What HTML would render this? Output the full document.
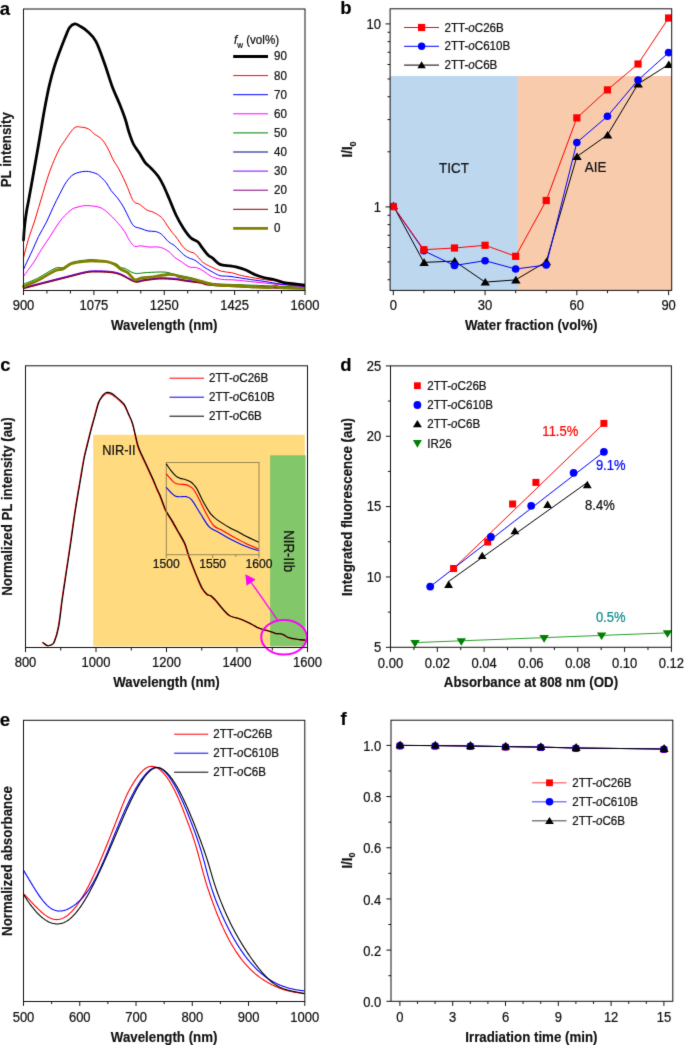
<!DOCTYPE html><html><head><meta charset="utf-8"><title>Figure</title><style>html,body{margin:0;padding:0;background:#fff;}svg{display:block;will-change:transform;}text{font-family:"Liberation Sans",sans-serif;}</style></head><body>
<svg width="685" height="1045" viewBox="0 0 685 1045" font-family="Liberation Sans, sans-serif">
<defs><clipPath id="clipA"><rect x="22" y="9" width="283" height="281.5"/></clipPath><clipPath id="clipB"><rect x="390.1" y="8.8" width="281.6" height="281.6"/></clipPath><clipPath id="clipC"><rect x="25.5" y="365.8" width="282" height="281.7"/></clipPath><clipPath id="clipE"><rect x="23.5" y="720.3" width="281.3" height="281.2"/></clipPath><filter id="soft" x="0" y="0" width="685" height="1045" color-interpolation-filters="sRGB" filterUnits="userSpaceOnUse"><feConvolveMatrix order="3" kernelMatrix="0.01000 0.08000 0.01000 0.08000 0.64000 0.08000 0.01000 0.08000 0.01000" edgeMode="duplicate" preserveAlpha="true"/></filter></defs>
<rect width="685" height="1045" fill="#fff"/>
<g filter="url(#soft)">
<rect width="685" height="1045" fill="#fff"/>
<g clip-path="url(#clipA)">
<path d="M23.5,288 C26.82,287.13 36.2,284.65 43.4,282.8 C50.6,280.95 59.7,278.67 66.7,276.9 C73.7,275.13 80.68,273.13 85.4,272.2 C90.12,271.27 90.87,271.35 95,271.3 C99.13,271.25 105.92,271.4 110.2,271.9 C114.48,272.4 116.62,272.73 120.7,274.3 C124.78,275.87 130.82,280.33 134.7,281.3 C138.58,282.27 139.92,280.6 144,280.1 C148.08,279.6 154.03,278.5 159.2,278.3 C164.37,278.1 170.65,278.53 175,278.9 C179.35,279.27 181.02,279.9 185.3,280.5 C189.58,281.1 196.78,281.83 200.7,282.5 C204.62,283.17 202.25,283.87 208.8,284.5 C215.35,285.13 224.05,285.67 240,286.3 C255.95,286.93 293.75,287.97 304.5,288.3" fill="none" stroke="#000080" stroke-width="1.0" stroke-linejoin="round" stroke-linecap="round"/>
<path d="M23.5,287.5 C26.82,286.63 36.2,284.15 43.4,282.3 C50.6,280.45 59.7,278.17 66.7,276.4 C73.7,274.63 80.68,272.63 85.4,271.7 C90.12,270.77 90.87,270.85 95,270.8 C99.13,270.75 105.92,270.9 110.2,271.4 C114.48,271.9 116.62,272.23 120.7,273.8 C124.78,275.37 130.82,279.83 134.7,280.8 C138.58,281.77 139.92,280.1 144,279.6 C148.08,279.1 154.03,278 159.2,277.8 C164.37,277.6 170.65,278.03 175,278.4 C179.35,278.77 181.02,279.4 185.3,280 C189.58,280.6 196.78,281.33 200.7,282 C204.62,282.67 202.25,283.37 208.8,284 C215.35,284.63 224.05,285.17 240,285.8 C255.95,286.43 293.75,287.47 304.5,287.8" fill="none" stroke="#8000ff" stroke-width="1.0" stroke-linejoin="round" stroke-linecap="round"/>
<path d="M23.5,288.2 C26.82,287.33 36.2,284.85 43.4,283 C50.6,281.15 59.7,278.87 66.7,277.1 C73.7,275.33 80.68,273.33 85.4,272.4 C90.12,271.47 90.87,271.55 95,271.5 C99.13,271.45 105.92,271.6 110.2,272.1 C114.48,272.6 116.62,272.93 120.7,274.5 C124.78,276.07 130.82,280.53 134.7,281.5 C138.58,282.47 139.92,280.8 144,280.3 C148.08,279.8 154.03,278.7 159.2,278.5 C164.37,278.3 170.65,278.73 175,279.1 C179.35,279.47 181.02,280.1 185.3,280.7 C189.58,281.3 196.78,282.03 200.7,282.7 C204.62,283.37 202.25,284.07 208.8,284.7 C215.35,285.33 224.05,285.87 240,286.5 C255.95,287.13 293.75,288.17 304.5,288.5" fill="none" stroke="#800080" stroke-width="1.0" stroke-linejoin="round" stroke-linecap="round"/>
<path d="M23.5,288.7 C26.82,287.83 36.2,285.35 43.4,283.5 C50.6,281.65 59.7,279.37 66.7,277.6 C73.7,275.83 80.68,273.83 85.4,272.9 C90.12,271.97 90.87,272.05 95,272 C99.13,271.95 105.92,272.1 110.2,272.6 C114.48,273.1 116.62,273.43 120.7,275 C124.78,276.57 130.82,281.03 134.7,282 C138.58,282.97 139.92,281.3 144,280.8 C148.08,280.3 154.03,279.2 159.2,279 C164.37,278.8 170.65,279.23 175,279.6 C179.35,279.97 181.02,280.6 185.3,281.2 C189.58,281.8 196.78,282.53 200.7,283.2 C204.62,283.87 202.25,284.57 208.8,285.2 C215.35,285.83 224.05,286.37 240,287 C255.95,287.63 293.75,288.67 304.5,289" fill="none" stroke="#800000" stroke-width="1.0" stroke-linejoin="round" stroke-linecap="round"/>
<path d="M23.5,284.1 C25.83,283.13 32.25,280.93 37.5,278.3 C42.75,275.67 50.72,270.1 55,268.3 C59.28,266.5 60.47,268.47 63.2,267.5 C65.93,266.53 67.7,263.73 71.4,262.5 C75.1,261.27 81.47,260.53 85.4,260.1 C89.33,259.67 90.08,259.35 95,259.9 C99.92,260.45 110.62,262.15 114.9,263.4 C119.18,264.65 118.95,266.53 120.7,267.4 C122.45,268.27 123.07,267.62 125.4,268.6 C127.73,269.58 131,272.65 134.7,273.3 C138.4,273.95 142.55,272.7 147.6,272.5 C152.65,272.3 160.43,271.77 165,272.1 C169.57,272.43 170.83,273.6 175,274.5 C179.17,275.4 184.02,276.05 190,277.5 C195.98,278.95 202.57,282 210.9,283.2 C219.23,284.4 230.87,284.28 240,284.7 C249.13,285.12 254.95,285.28 265.7,285.7 C276.45,286.12 298.03,286.95 304.5,287.2" fill="none" stroke="#008000" stroke-width="1.0" stroke-linejoin="round" stroke-linecap="round"/>
<path d="M23.5,286.4 C25.83,285.43 32.25,283.22 37.5,280.6 C42.75,277.98 50.72,272.65 55,270.7 C59.28,268.75 60.47,270.07 63.2,268.9 C65.93,267.73 67.7,264.97 71.4,263.7 C75.1,262.43 81.47,261.75 85.4,261.3 C89.33,260.85 91.45,260.95 95,261 C98.55,261.05 103.38,261.02 106.7,261.6 C110.02,262.18 112.57,263.23 114.9,264.5 C117.23,265.77 118.57,267.83 120.7,269.2 C122.83,270.57 125.37,270.95 127.7,272.7 C130.03,274.45 132.37,278.82 134.7,279.7 C137.03,280.58 138.58,278.48 141.7,278 C144.82,277.52 149.12,277.38 153.4,276.8 C157.68,276.22 163.8,274.8 167.4,274.5 C171,274.2 172.87,274.57 175,275 C177.13,275.43 177.63,276.5 180.2,277.1 C182.77,277.7 186.98,277.92 190.4,278.6 C193.82,279.28 197.28,280.27 200.7,281.2 C204.12,282.13 207.5,283.52 210.9,284.2 C214.3,284.88 216.25,285.03 221.1,285.3 C225.95,285.57 234.28,285.48 240,285.8 C245.72,286.12 250.45,286.92 255.4,287.2 C260.35,287.48 266.28,287.75 269.7,287.5 C273.12,287.25 274.18,285.7 275.9,285.7 C277.62,285.7 275.23,287.08 280,287.5 C284.77,287.92 300.42,288.08 304.5,288.2" fill="none" stroke="#808000" stroke-width="2.8" stroke-linejoin="round" stroke-linecap="round"/>
<path d="M23.5,276.5 C24.33,275.33 26.75,271.93 28.5,269.5 C30.25,267.07 31.83,265.27 34,261.9 C36.17,258.53 38.82,253.55 41.5,249.3 C44.18,245.05 47.12,240.95 50.1,236.4 C53.08,231.85 56.05,226.32 59.4,222 C62.75,217.68 67.1,213 70.2,210.5 C73.3,208 75.17,207.82 78,207 C80.83,206.18 83.53,205.52 87.2,205.6 C90.87,205.68 96.5,206.25 100,207.5 C103.5,208.75 105.47,210.8 108.2,213.1 C110.93,215.4 113.68,218.23 116.4,221.3 C119.12,224.37 122.3,228.27 124.5,231.5 C126.7,234.73 127.9,238.23 129.6,240.7 C131.3,243.17 132.82,245.45 134.7,246.3 C136.58,247.15 138.52,245.67 140.9,245.8 C143.28,245.93 146.28,246.92 149,247.1 C151.72,247.28 154.8,246.68 157.2,246.9 C159.6,247.12 161.27,247.47 163.4,248.4 C165.53,249.33 168.13,251 170,252.5 C171.87,254 172.87,255.98 174.6,257.4 C176.33,258.82 177.97,259.42 180.4,261 C182.83,262.58 186.52,265.8 189.2,266.9 C191.88,268 194.07,266.88 196.5,267.6 C198.93,268.32 201.37,269.73 203.8,271.2 C206.23,272.67 208.18,275.05 211.1,276.4 C214.02,277.75 217.32,278.7 221.3,279.3 C225.28,279.9 229.32,279.53 235,280 C240.68,280.47 248.58,281.42 255.4,282.1 C262.22,282.78 267.72,283.33 275.9,284.1 C284.08,284.87 299.73,286.27 304.5,286.7" fill="none" stroke="#ff00ff" stroke-width="1.0" stroke-linejoin="round" stroke-linecap="round"/>
<path d="M23.5,269.5 C24.22,267.92 26.23,263.37 27.8,260 C29.37,256.63 31.1,253.23 32.9,249.3 C34.7,245.37 36.33,240.95 38.6,236.4 C40.87,231.85 44.1,226.8 46.5,222 C48.9,217.2 50.73,212.38 53,207.6 C55.27,202.82 57.82,197.65 60.1,193.3 C62.38,188.95 64.38,184.68 66.7,181.5 C69.02,178.32 70.83,175.9 74,174.2 C77.17,172.5 82.05,171.42 85.7,171.3 C89.35,171.18 93.52,172.67 95.9,173.5 C98.28,174.33 98.3,174.8 100,176.3 C101.7,177.8 104.23,180.1 106.1,182.5 C107.97,184.9 109.32,188.15 111.2,190.7 C113.08,193.25 115.35,195.08 117.4,197.8 C119.45,200.52 121.63,203.77 123.5,207 C125.37,210.23 126.9,214.05 128.6,217.2 C130.3,220.35 131.65,224.02 133.7,225.9 C135.75,227.78 138.52,227.65 140.9,228.5 C143.28,229.35 145.62,230.5 148,231 C150.38,231.5 152.98,230.98 155.2,231.5 C157.42,232.02 159.03,232.35 161.3,234.1 C163.57,235.85 166.58,240.07 168.8,242 C171.02,243.93 172.17,243.62 174.6,245.7 C177.03,247.78 180.97,252.43 183.4,254.5 C185.83,256.57 187.27,257.13 189.2,258.1 C191.13,259.07 192.57,258.83 195,260.3 C197.43,261.77 201.12,265.08 203.8,266.9 C206.48,268.72 208.42,269.75 211.1,271.2 C213.78,272.65 216.75,274.73 219.9,275.6 C223.05,276.47 224.93,275.75 230,276.4 C235.07,277.05 244.35,278.63 250.3,279.5 C256.25,280.37 260.58,280.83 265.7,281.6 C270.82,282.37 274.53,283.33 281,284.1 C287.47,284.87 300.58,285.85 304.5,286.2" fill="none" stroke="#0000ff" stroke-width="1.0" stroke-linejoin="round" stroke-linecap="round"/>
<path d="M23.5,258 C23.87,256.55 24.73,252.9 25.7,249.3 C26.67,245.7 27.87,240.95 29.3,236.4 C30.73,231.85 32.75,226.8 34.3,222 C35.85,217.2 37.17,212.38 38.6,207.6 C40.03,202.82 41.47,198.08 42.9,193.3 C44.33,188.52 45.63,183.68 47.2,178.9 C48.77,174.12 50.27,169.62 52.3,164.6 C54.33,159.58 57.48,152.55 59.4,148.8 C61.32,145.05 61.37,145.53 63.8,142.1 C66.23,138.67 71.08,130.68 74,128.2 C76.92,125.72 78.87,127.07 81.3,127.2 C83.73,127.33 86.4,127.85 88.6,129 C90.8,130.15 92.3,132.4 94.5,134.1 C96.7,135.8 99.62,136.88 101.8,139.2 C103.98,141.52 105.68,144.53 107.6,148 C109.52,151.47 111.5,156.63 113.3,160 C115.1,163.37 116.7,165.13 118.4,168.2 C120.1,171.27 121.97,175.17 123.5,178.4 C125.03,181.63 126.23,184.37 127.6,187.6 C128.97,190.83 130.52,195.33 131.7,197.8 C132.88,200.27 133.33,201.28 134.7,202.4 C136.07,203.52 137.85,203.22 139.9,204.5 C141.95,205.78 144.8,208.83 147,210.1 C149.2,211.37 150.72,210.92 153.1,212.1 C155.48,213.28 159.22,215.38 161.3,217.2 C163.38,219.02 163.98,220.7 165.6,223 C167.22,225.3 169.27,228.67 171,231 C172.73,233.33 173.93,234.3 176,237 C178.07,239.7 181.2,244.78 183.4,247.2 C185.6,249.62 187.27,250.42 189.2,251.5 C191.13,252.58 192.82,251.98 195,253.7 C197.18,255.42 199.62,259.6 202.3,261.8 C204.98,264 207.93,265.33 211.1,266.9 C214.27,268.47 217.9,270.23 221.3,271.2 C224.7,272.17 228.08,271.97 231.5,272.7 C234.92,273.43 236.97,274.55 241.8,275.6 C246.63,276.65 254.82,278.08 260.5,279 C266.18,279.92 271.63,280.33 275.9,281.1 C280.17,281.87 281.33,282.83 286.1,283.6 C290.87,284.37 301.43,285.35 304.5,285.7" fill="none" stroke="#ff0000" stroke-width="1.0" stroke-linejoin="round" stroke-linecap="round"/>
<path d="M23.5,240 C23.57,239 23.75,236 23.9,234 C24.05,232 24.2,230.08 24.4,228 C24.6,225.92 24.73,224.33 25.1,221.5 C25.47,218.67 26.02,214.52 26.6,211 C27.18,207.48 27.8,204.73 28.6,200.4 C29.4,196.07 30.43,190.4 31.4,185 C32.37,179.6 33.37,173.83 34.4,168 C35.43,162.17 36.5,156.33 37.6,150 C38.7,143.67 39.87,136.67 41,130 C42.13,123.33 43.03,117.35 44.4,110 C45.77,102.65 47.55,93.08 49.2,85.9 C50.85,78.72 52.6,72.5 54.3,66.9 C56,61.3 57.57,57.28 59.4,52.3 C61.23,47.32 63.6,41.13 65.3,37 C67,32.87 68.03,29.68 69.6,27.5 C71.17,25.32 72.98,24.13 74.7,23.9 C76.42,23.67 77.82,24.88 79.9,26.1 C81.98,27.32 84.53,28.65 87.2,31.2 C89.87,33.75 92.98,35.93 95.9,41.4 C98.82,46.87 102.02,56.58 104.7,64 C107.38,71.42 109.53,79.27 112,85.9 C114.47,92.53 117.28,98.25 119.5,103.8 C121.72,109.35 123.72,114.45 125.3,119.2 C126.88,123.95 127.65,128.17 129,132.3 C130.35,136.43 131.7,140.58 133.4,144 C135.1,147.42 137.27,149.75 139.2,152.8 C141.13,155.85 143.02,159.73 145,162.3 C146.98,164.87 148.9,165.87 151.1,168.2 C153.3,170.53 156.15,173.42 158.2,176.3 C160.25,179.18 161.55,181.72 163.4,185.5 C165.25,189.28 167.2,194.08 169.3,199 C171.4,203.92 173.65,210.13 176,215 C178.35,219.87 180.95,224.42 183.4,228.2 C185.85,231.98 188.27,235.4 190.7,237.7 C193.13,240 196.07,240.3 198,242 C199.93,243.7 200.6,245.7 202.3,247.9 C204,250.1 206.48,253.5 208.2,255.2 C209.92,256.9 210.65,256.57 212.6,258.1 C214.55,259.63 217,263.12 219.9,264.4 C222.8,265.68 227.33,265.38 230,265.8 C232.67,266.22 233.37,266.23 235.9,266.9 C238.43,267.57 242.28,268.63 245.2,269.8 C248.12,270.97 250.33,272.62 253.4,273.9 C256.47,275.18 260.2,276.57 263.6,277.5 C267,278.43 270.4,278.65 273.8,279.5 C277.2,280.35 280.25,281.83 284,282.6 C287.75,283.37 292.88,283.68 296.3,284.1 C299.72,284.52 303.13,284.93 304.5,285.1" fill="none" stroke="#000" stroke-width="2.8" stroke-linejoin="round" stroke-linecap="round"/>
</g>
<rect x="23.5" y="9" width="281.5" height="281.5" fill="none" stroke="#111" stroke-width="1.0"/>
<line x1="23.5" y1="290.5" x2="23.5" y2="295" stroke="#111" stroke-width="1.0"/>
<line x1="93.88" y1="290.5" x2="93.88" y2="295" stroke="#111" stroke-width="1.0"/>
<line x1="164.25" y1="290.5" x2="164.25" y2="295" stroke="#111" stroke-width="1.0"/>
<line x1="234.62" y1="290.5" x2="234.62" y2="295" stroke="#111" stroke-width="1.0"/>
<line x1="305" y1="290.5" x2="305" y2="295" stroke="#111" stroke-width="1.0"/>
<line x1="46.96" y1="290.5" x2="46.96" y2="293.5" stroke="#111" stroke-width="1.0"/>
<line x1="70.42" y1="290.5" x2="70.42" y2="293.5" stroke="#111" stroke-width="1.0"/>
<line x1="117.33" y1="290.5" x2="117.33" y2="293.5" stroke="#111" stroke-width="1.0"/>
<line x1="140.79" y1="290.5" x2="140.79" y2="293.5" stroke="#111" stroke-width="1.0"/>
<line x1="187.71" y1="290.5" x2="187.71" y2="293.5" stroke="#111" stroke-width="1.0"/>
<line x1="211.17" y1="290.5" x2="211.17" y2="293.5" stroke="#111" stroke-width="1.0"/>
<line x1="258.08" y1="290.5" x2="258.08" y2="293.5" stroke="#111" stroke-width="1.0"/>
<line x1="281.54" y1="290.5" x2="281.54" y2="293.5" stroke="#111" stroke-width="1.0"/>
<text x="0" y="0" font-size="13.0" text-anchor="middle" font-weight="normal" fill="#111" stroke="#111" stroke-width="0.22" transform="translate(23.5 309.6) scale(1 1.075)">900</text>
<text x="0" y="0" font-size="13.0" text-anchor="middle" font-weight="normal" fill="#111" stroke="#111" stroke-width="0.22" transform="translate(93.88 309.6) scale(1 1.075)">1075</text>
<text x="0" y="0" font-size="13.0" text-anchor="middle" font-weight="normal" fill="#111" stroke="#111" stroke-width="0.22" transform="translate(164.25 309.6) scale(1 1.075)">1250</text>
<text x="0" y="0" font-size="13.0" text-anchor="middle" font-weight="normal" fill="#111" stroke="#111" stroke-width="0.22" transform="translate(234.62 309.6) scale(1 1.075)">1425</text>
<text x="0" y="0" font-size="13.0" text-anchor="middle" font-weight="normal" fill="#111" stroke="#111" stroke-width="0.22" transform="translate(305 309.6) scale(1 1.075)">1600</text>
<text x="0" y="0" font-size="13.3" text-anchor="middle" font-weight="bold" fill="#111" stroke="#111" stroke-width="0.154" transform="translate(164.25 329.9) scale(1 1.075)">Wavelength (nm)</text>
<text x="0" y="0" font-size="13.3" text-anchor="middle" font-weight="bold" fill="#111" stroke="#111" stroke-width="0.154" transform="translate(11.3 149.75) rotate(-90) scale(1 1.075)">PL intensity</text>
<text x="0" y="0" font-size="18.5" text-anchor="start" font-weight="bold" fill="#000" stroke="#000" stroke-width="0.154" transform="translate(-0.3 14.6) scale(1 1.0)">a</text>
<text x="0" y="0" font-size="11.6" text-anchor="start" font-weight="normal" fill="#111" stroke="#111" stroke-width="0.22" transform="translate(234 44.3) scale(1 1.075)"><tspan font-style="italic">f</tspan><tspan font-size="8" dy="3.2">w</tspan><tspan dy="-3.2"> (vol%)</tspan></text>
<line x1="233.2" y1="56.5" x2="268" y2="56.5" stroke="#000" stroke-width="2.8"/>
<text x="0" y="0" font-size="11.6" text-anchor="start" font-weight="normal" fill="#111" stroke="#111" stroke-width="0.22" transform="translate(274 60.4) scale(1 1.075)">90</text>
<line x1="233.2" y1="75.6" x2="268" y2="75.6" stroke="#ff0000" stroke-width="1.0"/>
<text x="0" y="0" font-size="11.6" text-anchor="start" font-weight="normal" fill="#111" stroke="#111" stroke-width="0.22" transform="translate(274 79.5) scale(1 1.075)">80</text>
<line x1="233.2" y1="94.7" x2="268" y2="94.7" stroke="#0000ff" stroke-width="1.0"/>
<text x="0" y="0" font-size="11.6" text-anchor="start" font-weight="normal" fill="#111" stroke="#111" stroke-width="0.22" transform="translate(274 98.6) scale(1 1.075)">70</text>
<line x1="233.2" y1="113.8" x2="268" y2="113.8" stroke="#ff00ff" stroke-width="1.0"/>
<text x="0" y="0" font-size="11.6" text-anchor="start" font-weight="normal" fill="#111" stroke="#111" stroke-width="0.22" transform="translate(274 117.7) scale(1 1.075)">60</text>
<line x1="233.2" y1="132.9" x2="268" y2="132.9" stroke="#008000" stroke-width="1.0"/>
<text x="0" y="0" font-size="11.6" text-anchor="start" font-weight="normal" fill="#111" stroke="#111" stroke-width="0.22" transform="translate(274 136.8) scale(1 1.075)">50</text>
<line x1="233.2" y1="152" x2="268" y2="152" stroke="#000080" stroke-width="1.0"/>
<text x="0" y="0" font-size="11.6" text-anchor="start" font-weight="normal" fill="#111" stroke="#111" stroke-width="0.22" transform="translate(274 155.9) scale(1 1.075)">40</text>
<line x1="233.2" y1="171.1" x2="268" y2="171.1" stroke="#8000ff" stroke-width="1.0"/>
<text x="0" y="0" font-size="11.6" text-anchor="start" font-weight="normal" fill="#111" stroke="#111" stroke-width="0.22" transform="translate(274 175) scale(1 1.075)">30</text>
<line x1="233.2" y1="190.2" x2="268" y2="190.2" stroke="#800080" stroke-width="1.0"/>
<text x="0" y="0" font-size="11.6" text-anchor="start" font-weight="normal" fill="#111" stroke="#111" stroke-width="0.22" transform="translate(274 194.1) scale(1 1.075)">20</text>
<line x1="233.2" y1="209.3" x2="268" y2="209.3" stroke="#800000" stroke-width="1.0"/>
<text x="0" y="0" font-size="11.6" text-anchor="start" font-weight="normal" fill="#111" stroke="#111" stroke-width="0.22" transform="translate(274 213.2) scale(1 1.075)">10</text>
<line x1="233.2" y1="228.4" x2="268" y2="228.4" stroke="#808000" stroke-width="2.8"/>
<text x="0" y="0" font-size="11.6" text-anchor="start" font-weight="normal" fill="#111" stroke="#111" stroke-width="0.22" transform="translate(274 232.3) scale(1 1.075)">0</text>
<rect x="390.1" y="76" width="127.9" height="214.4" fill="#bdd7ee"/>
<rect x="518" y="76" width="153.7" height="214.4" fill="#f8cbad"/>
<g clip-path="url(#clipB)">
<polyline points="393.3,205.8 423.89,262.4 454.48,261.1 485.07,282.1 515.66,279.9 546.25,261.7 576.84,156.6 607.43,135 638.02,84 668.61,64.5" fill="none" stroke="#000" stroke-width="1.0" stroke-linejoin="round"/>
<polyline points="393.3,206.5 423.89,250.8 454.48,265.5 485.07,260.7 515.66,269 546.25,265 576.84,142.5 607.43,116.3 638.02,80.1 668.61,52.6" fill="none" stroke="#0000ff" stroke-width="1.0" stroke-linejoin="round"/>
<polyline points="393.3,206.5 423.89,249.7 454.48,248 485.07,245.3 515.66,256.3 546.25,200.5 576.84,117.9 607.43,89.9 638.02,64 668.61,18" fill="none" stroke="#ff0000" stroke-width="1.0" stroke-linejoin="round"/>
<polygon points="393.5,201.7 398.2,209.3 388.8,209.3" fill="#000"/>
<polygon points="424.09,258.3 428.79,265.9 419.39,265.9" fill="#000"/>
<polygon points="454.68,257 459.38,264.6 449.98,264.6" fill="#000"/>
<polygon points="485.27,278 489.97,285.6 480.57,285.6" fill="#000"/>
<polygon points="515.86,275.8 520.56,283.4 511.16,283.4" fill="#000"/>
<polygon points="546.45,257.6 551.15,265.2 541.75,265.2" fill="#000"/>
<polygon points="577.04,152.5 581.74,160.1 572.34,160.1" fill="#000"/>
<polygon points="607.63,130.9 612.33,138.5 602.93,138.5" fill="#000"/>
<polygon points="638.22,79.9 642.92,87.5 633.52,87.5" fill="#000"/>
<polygon points="668.81,60.4 673.51,68 664.11,68" fill="#000"/>
<circle cx="393.3" cy="206.5" r="3.8" fill="#0000ff"/>
<circle cx="423.89" cy="250.8" r="3.8" fill="#0000ff"/>
<circle cx="454.48" cy="265.5" r="3.8" fill="#0000ff"/>
<circle cx="485.07" cy="260.7" r="3.8" fill="#0000ff"/>
<circle cx="515.66" cy="269" r="3.8" fill="#0000ff"/>
<circle cx="546.25" cy="265" r="3.8" fill="#0000ff"/>
<circle cx="576.84" cy="142.5" r="3.8" fill="#0000ff"/>
<circle cx="607.43" cy="116.3" r="3.8" fill="#0000ff"/>
<circle cx="638.02" cy="80.1" r="3.8" fill="#0000ff"/>
<circle cx="668.61" cy="52.6" r="3.8" fill="#0000ff"/>
<rect x="389.7" y="202.9" width="7.2" height="7.2" fill="#ff0000"/>
<rect x="420.29" y="246.1" width="7.2" height="7.2" fill="#ff0000"/>
<rect x="450.88" y="244.4" width="7.2" height="7.2" fill="#ff0000"/>
<rect x="481.47" y="241.7" width="7.2" height="7.2" fill="#ff0000"/>
<rect x="512.06" y="252.7" width="7.2" height="7.2" fill="#ff0000"/>
<rect x="542.65" y="196.9" width="7.2" height="7.2" fill="#ff0000"/>
<rect x="573.24" y="114.3" width="7.2" height="7.2" fill="#ff0000"/>
<rect x="603.83" y="86.3" width="7.2" height="7.2" fill="#ff0000"/>
<rect x="634.42" y="60.4" width="7.2" height="7.2" fill="#ff0000"/>
<rect x="665.01" y="14.4" width="7.2" height="7.2" fill="#ff0000"/>
</g>
<text x="0" y="0" font-size="13.4" text-anchor="start" font-weight="normal" fill="#111" stroke="#111" stroke-width="0.22" transform="translate(439.1 172.6) scale(1 1.075)">TICT</text>
<text x="0" y="0" font-size="13.4" text-anchor="start" font-weight="normal" fill="#111" stroke="#111" stroke-width="0.22" transform="translate(584.8 172.4) scale(1 1.075)">AIE</text>
<rect x="390.1" y="8.8" width="281.6" height="281.6" fill="none" stroke="#111" stroke-width="1.0"/>
<line x1="385.5" y1="206.9" x2="390.1" y2="206.9" stroke="#111" stroke-width="1.0"/>
<line x1="385.5" y1="23.9" x2="390.1" y2="23.9" stroke="#111" stroke-width="1.0"/>
<line x1="387.5" y1="279.72" x2="390.1" y2="279.72" stroke="#111" stroke-width="1.0"/>
<line x1="387.5" y1="261.99" x2="390.1" y2="261.99" stroke="#111" stroke-width="1.0"/>
<line x1="387.5" y1="247.5" x2="390.1" y2="247.5" stroke="#111" stroke-width="1.0"/>
<line x1="387.5" y1="235.25" x2="390.1" y2="235.25" stroke="#111" stroke-width="1.0"/>
<line x1="387.5" y1="224.63" x2="390.1" y2="224.63" stroke="#111" stroke-width="1.0"/>
<line x1="387.5" y1="215.27" x2="390.1" y2="215.27" stroke="#111" stroke-width="1.0"/>
<line x1="387.5" y1="151.81" x2="390.1" y2="151.81" stroke="#111" stroke-width="1.0"/>
<line x1="387.5" y1="119.59" x2="390.1" y2="119.59" stroke="#111" stroke-width="1.0"/>
<line x1="387.5" y1="96.72" x2="390.1" y2="96.72" stroke="#111" stroke-width="1.0"/>
<line x1="387.5" y1="78.99" x2="390.1" y2="78.99" stroke="#111" stroke-width="1.0"/>
<line x1="387.5" y1="64.5" x2="390.1" y2="64.5" stroke="#111" stroke-width="1.0"/>
<line x1="387.5" y1="52.25" x2="390.1" y2="52.25" stroke="#111" stroke-width="1.0"/>
<line x1="387.5" y1="41.63" x2="390.1" y2="41.63" stroke="#111" stroke-width="1.0"/>
<line x1="387.5" y1="32.27" x2="390.1" y2="32.27" stroke="#111" stroke-width="1.0"/>
<text x="0" y="0" font-size="13.0" text-anchor="end" font-weight="normal" fill="#111" stroke="#111" stroke-width="0.22" transform="translate(381 28.6) scale(1 1.075)">10</text>
<text x="0" y="0" font-size="13.0" text-anchor="end" font-weight="normal" fill="#111" stroke="#111" stroke-width="0.22" transform="translate(381 211.6) scale(1 1.075)">1</text>
<line x1="393.3" y1="290.4" x2="393.3" y2="295.2" stroke="#111" stroke-width="1.0"/>
<line x1="485.07" y1="290.4" x2="485.07" y2="295.2" stroke="#111" stroke-width="1.0"/>
<line x1="576.84" y1="290.4" x2="576.84" y2="295.2" stroke="#111" stroke-width="1.0"/>
<line x1="668.61" y1="290.4" x2="668.61" y2="295.2" stroke="#111" stroke-width="1.0"/>
<line x1="423.89" y1="290.4" x2="423.89" y2="293.2" stroke="#111" stroke-width="1.0"/>
<line x1="454.48" y1="290.4" x2="454.48" y2="293.2" stroke="#111" stroke-width="1.0"/>
<line x1="515.66" y1="290.4" x2="515.66" y2="293.2" stroke="#111" stroke-width="1.0"/>
<line x1="546.25" y1="290.4" x2="546.25" y2="293.2" stroke="#111" stroke-width="1.0"/>
<line x1="607.43" y1="290.4" x2="607.43" y2="293.2" stroke="#111" stroke-width="1.0"/>
<line x1="638.02" y1="290.4" x2="638.02" y2="293.2" stroke="#111" stroke-width="1.0"/>
<text x="0" y="0" font-size="13.0" text-anchor="middle" font-weight="normal" fill="#111" stroke="#111" stroke-width="0.22" transform="translate(393.3 309.7) scale(1 1.075)">0</text>
<text x="0" y="0" font-size="13.0" text-anchor="middle" font-weight="normal" fill="#111" stroke="#111" stroke-width="0.22" transform="translate(485.07 309.7) scale(1 1.075)">30</text>
<text x="0" y="0" font-size="13.0" text-anchor="middle" font-weight="normal" fill="#111" stroke="#111" stroke-width="0.22" transform="translate(576.84 309.7) scale(1 1.075)">60</text>
<text x="0" y="0" font-size="13.0" text-anchor="middle" font-weight="normal" fill="#111" stroke="#111" stroke-width="0.22" transform="translate(668.61 309.7) scale(1 1.075)">90</text>
<text x="0" y="0" font-size="13.3" text-anchor="middle" font-weight="bold" fill="#111" stroke="#111" stroke-width="0.154" transform="translate(531.1 330) scale(1 1.075)">Water fraction (vol%)</text>
<text x="0" y="0" font-size="13.3" text-anchor="start" font-weight="bold" fill="#111" stroke="#111" stroke-width="0.154" transform="translate(352.3 157.5) rotate(-90) scale(1 1.075)">I/I<tspan font-size="9" dy="3">0</tspan></text>
<text x="0" y="0" font-size="18.5" text-anchor="start" font-weight="bold" fill="#000" stroke="#000" stroke-width="0.154" transform="translate(340.3 13.9) scale(1 1.0)">b</text>
<line x1="404.1" y1="27.5" x2="439" y2="27.5" stroke="#ff0000" stroke-width="1.0"/>
<rect x="418" y="23.9" width="7.2" height="7.2" fill="#ff0000"/>
<text x="0" y="0" font-size="11.6" text-anchor="start" font-weight="normal" fill="#111" stroke="#111" stroke-width="0.22" transform="translate(444.5 31.5) scale(1 1.075)">2TT-<tspan font-style="italic">o</tspan>C26B</text>
<line x1="404.1" y1="46.3" x2="439" y2="46.3" stroke="#0000ff" stroke-width="1.0"/>
<circle cx="421.6" cy="46.3" r="3.7" fill="#0000ff"/>
<text x="0" y="0" font-size="11.6" text-anchor="start" font-weight="normal" fill="#111" stroke="#111" stroke-width="0.22" transform="translate(444.5 50.3) scale(1 1.075)">2TT-<tspan font-style="italic">o</tspan>C610B</text>
<line x1="404.1" y1="65.1" x2="439" y2="65.1" stroke="#000" stroke-width="1.0"/>
<polygon points="421.6,61.3 425.8,68.3 417.4,68.3" fill="#000"/>
<text x="0" y="0" font-size="11.6" text-anchor="start" font-weight="normal" fill="#111" stroke="#111" stroke-width="0.22" transform="translate(444.5 69.1) scale(1 1.075)">2TT-<tspan font-style="italic">o</tspan>C6B</text>
<rect x="93.2" y="434.8" width="211.6" height="211.5" fill="#ffda7f"/>
<rect x="270.1" y="455.3" width="35.5" height="191" fill="#82c769"/>
<g clip-path="url(#clipC)">
<path d="M42.5,642.6 C43.23,643.1 45.57,645.2 46.9,645.6 C48.23,646 49.33,645.6 50.5,645 C51.67,644.4 52.6,645.12 53.9,642 C55.2,638.88 56.98,633.3 58.3,626.3 C59.62,619.3 60.6,608.55 61.8,600 C63,591.45 64.13,584.17 65.5,575 C66.87,565.83 68.42,555.83 70,545 C71.58,534.17 73.33,520.83 75,510 C76.67,499.17 78.53,488.67 80,480 C81.47,471.33 82.65,463.83 83.8,458 C84.95,452.17 85.72,449.87 86.9,445 C88.08,440.13 89.58,433.83 90.9,428.8 C92.22,423.77 93.57,419.18 94.8,414.8 C96.03,410.42 97.12,405.38 98.3,402.5 C99.48,399.62 100.72,398.92 101.9,397.5 C103.08,396.08 104.38,394.67 105.4,394 C106.42,393.33 106.83,393.35 108,393.5 C109.17,393.65 110.93,394.08 112.4,394.9 C113.87,395.72 115.33,397.17 116.8,398.4 C118.27,399.63 119.88,401 121.2,402.3 C122.52,403.6 123.53,404.23 124.7,406.2 C125.87,408.17 126.88,411.03 128.2,414.1 C129.52,417.17 131.07,419.37 132.6,424.6 C134.13,429.83 135.85,440.22 137.4,445.5 C138.95,450.78 140.27,452.6 141.9,456.3 C143.53,460 145.45,463.92 147.2,467.7 C148.95,471.48 150.77,475.28 152.4,479 C154.03,482.72 155.83,487.33 157,490 C158.17,492.67 158.5,492.83 159.4,495 C160.3,497.17 161.37,500.32 162.4,503 C163.43,505.68 164.03,508.08 165.6,511.1 C167.17,514.12 169.72,517.57 171.8,521.1 C173.88,524.63 176.02,528.57 178.1,532.3 C180.18,536.03 182.65,539.77 184.3,543.5 C185.95,547.23 186.77,551.18 188,554.7 C189.23,558.22 190.25,560.87 191.7,564.6 C193.15,568.33 195.03,573.15 196.7,577.1 C198.37,581.05 200.03,585.4 201.7,588.3 C203.37,591.2 205.25,593.27 206.7,594.5 C208.15,595.73 208.95,594.67 210.4,595.7 C211.85,596.73 213.53,598.62 215.4,600.7 C217.27,602.78 219.32,605.72 221.6,608.2 C223.88,610.68 226.62,613.95 229.1,615.6 C231.58,617.25 234.22,617.33 236.5,618.1 C238.78,618.87 240.65,619.33 242.8,620.2 C244.95,621.07 247.55,622.37 249.4,623.3 C251.25,624.23 252.43,625 253.9,625.8 C255.37,626.6 256.47,627.42 258.2,628.1 C259.93,628.78 262.12,629.23 264.3,629.9 C266.48,630.57 269.4,631.48 271.3,632.1 C273.2,632.72 274.25,633.32 275.7,633.6 C277.15,633.88 278.68,633.58 280,633.8 C281.32,634.02 282.28,634.27 283.6,634.9 C284.92,635.53 286.3,636.95 287.9,637.6 C289.5,638.25 291.28,638.47 293.2,638.8 C295.12,639.13 297.12,639.33 299.4,639.6 C301.68,639.87 305.65,640.27 306.9,640.4" fill="none" stroke="#ff0000" stroke-width="1.1" stroke-linejoin="round" stroke-linecap="round"/>
<path d="M43,642.6 C43.73,643.1 46.07,645.2 47.4,645.6 C48.73,646 49.83,645.6 51,645 C52.17,644.4 53.1,645.12 54.4,642 C55.7,638.88 57.48,633.3 58.8,626.3 C60.12,619.3 61.1,608.55 62.3,600 C63.5,591.45 64.63,584.17 66,575 C67.37,565.83 68.92,555.83 70.5,545 C72.08,534.17 73.83,520.83 75.5,510 C77.17,499.17 79.03,488.67 80.5,480 C81.97,471.33 83.15,463.83 84.3,458 C85.45,452.17 86.22,449.87 87.4,445 C88.58,440.13 90.08,433.83 91.4,428.8 C92.72,423.77 94.07,419.18 95.3,414.8 C96.53,410.42 97.7,405.57 98.8,402.5 C99.9,399.43 100.8,398 101.9,396.4 C103,394.8 104.38,393.57 105.4,392.9 C106.42,392.23 106.83,392.25 108,392.4 C109.17,392.55 110.93,392.98 112.4,393.8 C113.87,394.62 115.33,396.07 116.8,397.3 C118.27,398.53 119.88,399.9 121.2,401.2 C122.52,402.5 123.53,403.13 124.7,405.1 C125.87,407.07 126.88,409.93 128.2,413 C129.52,416.07 130.97,418.08 132.6,423.5 C134.23,428.92 136.35,440.03 138,445.5 C139.65,450.97 140.87,452.6 142.5,456.3 C144.13,460 146.05,463.92 147.8,467.7 C149.55,471.48 151.37,475.28 153,479 C154.63,482.72 156.43,487.33 157.6,490 C158.77,492.67 159.1,492.83 160,495 C160.9,497.17 161.97,500.32 163,503 C164.03,505.68 164.63,508.08 166.2,511.1 C167.77,514.12 170.32,517.57 172.4,521.1 C174.48,524.63 176.62,528.57 178.7,532.3 C180.78,536.03 183.25,539.77 184.9,543.5 C186.55,547.23 187.37,551.18 188.6,554.7 C189.83,558.22 190.85,560.87 192.3,564.6 C193.75,568.33 195.63,573.15 197.3,577.1 C198.97,581.05 200.63,585.4 202.3,588.3 C203.97,591.2 205.85,593.27 207.3,594.5 C208.75,595.73 209.55,594.67 211,595.7 C212.45,596.73 214.13,598.62 216,600.7 C217.87,602.78 219.92,605.72 222.2,608.2 C224.48,610.68 227.22,613.95 229.7,615.6 C232.18,617.25 234.82,617.33 237.1,618.1 C239.38,618.87 241.25,619.33 243.4,620.2 C245.55,621.07 248.15,622.37 250,623.3 C251.85,624.23 253.03,625 254.5,625.8 C255.97,626.6 257.07,627.42 258.8,628.1 C260.53,628.78 262.72,629.23 264.9,629.9 C267.08,630.57 270,631.48 271.9,632.1 C273.8,632.72 274.85,633.32 276.3,633.6 C277.75,633.88 279.28,633.58 280.6,633.8 C281.92,634.02 282.88,634.27 284.2,634.9 C285.52,635.53 286.9,636.95 288.5,637.6 C290.1,638.25 291.88,638.47 293.8,638.8 C295.72,639.13 297.72,639.33 300,639.6 C302.28,639.87 306.25,640.27 307.5,640.4" fill="none" stroke="#000" stroke-width="1.1" stroke-linejoin="round" stroke-linecap="round"/>
</g>
<rect x="166.3" y="462.5" width="92.69999999999999" height="92.20000000000005" fill="none" stroke="#9a8756" stroke-width="1"/>
<line x1="166.3" y1="554.7" x2="166.3" y2="558.2" stroke="#9a8756" stroke-width="1"/>
<line x1="189.48" y1="554.7" x2="189.48" y2="556.9" stroke="#9a8756" stroke-width="1"/>
<line x1="212.65" y1="554.7" x2="212.65" y2="558.2" stroke="#9a8756" stroke-width="1"/>
<line x1="235.82" y1="554.7" x2="235.82" y2="556.9" stroke="#9a8756" stroke-width="1"/>
<line x1="259" y1="554.7" x2="259" y2="558.2" stroke="#9a8756" stroke-width="1"/>
<text x="0" y="0" font-size="12.1" text-anchor="middle" font-weight="normal" fill="#111" stroke="#111" stroke-width="0.22" transform="translate(166.3 568) scale(1 1.075)">1500</text>
<text x="0" y="0" font-size="12.1" text-anchor="middle" font-weight="normal" fill="#111" stroke="#111" stroke-width="0.22" transform="translate(212.65 568) scale(1 1.075)">1550</text>
<text x="0" y="0" font-size="12.1" text-anchor="middle" font-weight="normal" fill="#111" stroke="#111" stroke-width="0.22" transform="translate(259 568) scale(1 1.075)">1600</text>
<path d="M166.4,487.5 C167.17,488.33 169.45,491.03 171,492.5 C172.55,493.97 174.12,495.58 175.7,496.3 C177.28,497.02 178.8,496.75 180.5,496.8 C182.2,496.85 184.03,496.08 185.9,496.6 C187.77,497.12 189.27,497.03 191.7,499.9 C194.13,502.77 197.58,509.3 200.5,513.8 C203.42,518.3 206.28,523.87 209.2,526.9 C212.12,529.93 214.83,530.17 218,532 C221.17,533.83 223.7,535.58 228.2,537.9 C232.7,540.22 240,543.8 245,545.9 C250,548 256,549.73 258.2,550.5" fill="none" stroke="#0000ff" stroke-width="1.1" stroke-linejoin="round" stroke-linecap="round"/>
<path d="M166.4,474.1 C167.47,475.3 171.12,479.68 172.8,481.3 C174.48,482.92 175.15,483.3 176.5,483.8 C177.85,484.3 179.4,484.17 180.9,484.3 C182.4,484.43 183.93,484.22 185.5,484.6 C187.07,484.98 188.93,485.78 190.3,486.6 C191.67,487.42 192.48,487.88 193.7,489.5 C194.92,491.12 195.5,492.25 197.6,496.3 C199.7,500.35 203.63,508.93 206.3,513.8 C208.97,518.67 210.92,522.7 213.6,525.5 C216.28,528.3 219.23,528.78 222.4,530.6 C225.57,532.42 228.83,534.33 232.6,536.4 C236.37,538.47 240.73,540.9 245,543 C249.27,545.1 256,548 258.2,549" fill="none" stroke="#ff0000" stroke-width="1.1" stroke-linejoin="round" stroke-linecap="round"/>
<path d="M166.4,464.1 C167.2,465.23 169.65,468.95 171.2,470.9 C172.75,472.85 174.23,474.57 175.7,475.8 C177.17,477.03 178.33,477.65 180,478.3 C181.67,478.95 183.95,479.12 185.7,479.7 C187.45,480.28 189.12,480.92 190.5,481.8 C191.88,482.68 192.87,483.72 194,485 C195.13,486.28 195.73,486.65 197.3,489.5 C198.87,492.35 201.17,498.05 203.4,502.1 C205.63,506.15 208.27,510.75 210.7,513.8 C213.13,516.85 214.83,518.08 218,520.4 C221.17,522.72 226.3,525.77 229.7,527.7 C233.1,529.63 235.85,530.67 238.4,532 C240.95,533.33 241.7,534.03 245,535.7 C248.3,537.37 256,540.95 258.2,542" fill="none" stroke="#000" stroke-width="1.1" stroke-linejoin="round" stroke-linecap="round"/>
<text x="0" y="0" font-size="12.8" text-anchor="start" font-weight="normal" fill="#111" stroke="#111" stroke-width="0.22" transform="translate(102.3 454.7) scale(1 1.075)">NIR-II</text>
<text x="0" y="0" font-size="13.3" text-anchor="middle" font-weight="normal" fill="#111" stroke="#111" stroke-width="0.22" transform="translate(283.7 551.2) rotate(90) scale(1 1.075)">NIR-IIb</text>
<ellipse cx="284" cy="637.3" rx="22.8" ry="17.3" fill="none" stroke="#ff00ff" stroke-width="2"/>
<line x1="277.4" y1="619.8" x2="250.5" y2="581.5" stroke="#ff00ff" stroke-width="1.3"/>
<polygon points="245.3,574.2 255.6,579.6 246.6,585.8" fill="#ff00ff"/>
<rect x="25.5" y="365.8" width="282" height="281.7" fill="none" stroke="#111" stroke-width="1.0"/>
<line x1="25.5" y1="647.5" x2="25.5" y2="652.1" stroke="#111" stroke-width="1.0"/>
<line x1="96" y1="647.5" x2="96" y2="652.1" stroke="#111" stroke-width="1.0"/>
<line x1="166.5" y1="647.5" x2="166.5" y2="652.1" stroke="#111" stroke-width="1.0"/>
<line x1="237" y1="647.5" x2="237" y2="652.1" stroke="#111" stroke-width="1.0"/>
<line x1="307.5" y1="647.5" x2="307.5" y2="652.1" stroke="#111" stroke-width="1.0"/>
<line x1="60.75" y1="647.5" x2="60.75" y2="650.5" stroke="#111" stroke-width="1.0"/>
<line x1="131.25" y1="647.5" x2="131.25" y2="650.5" stroke="#111" stroke-width="1.0"/>
<line x1="201.75" y1="647.5" x2="201.75" y2="650.5" stroke="#111" stroke-width="1.0"/>
<line x1="272.25" y1="647.5" x2="272.25" y2="650.5" stroke="#111" stroke-width="1.0"/>
<text x="0" y="0" font-size="13.0" text-anchor="middle" font-weight="normal" fill="#111" stroke="#111" stroke-width="0.22" transform="translate(25.5 667.4) scale(1 1.075)">800</text>
<text x="0" y="0" font-size="13.0" text-anchor="middle" font-weight="normal" fill="#111" stroke="#111" stroke-width="0.22" transform="translate(96 667.4) scale(1 1.075)">1000</text>
<text x="0" y="0" font-size="13.0" text-anchor="middle" font-weight="normal" fill="#111" stroke="#111" stroke-width="0.22" transform="translate(166.5 667.4) scale(1 1.075)">1200</text>
<text x="0" y="0" font-size="13.0" text-anchor="middle" font-weight="normal" fill="#111" stroke="#111" stroke-width="0.22" transform="translate(237 667.4) scale(1 1.075)">1400</text>
<text x="0" y="0" font-size="13.0" text-anchor="middle" font-weight="normal" fill="#111" stroke="#111" stroke-width="0.22" transform="translate(307.5 667.4) scale(1 1.075)">1600</text>
<text x="0" y="0" font-size="13.3" text-anchor="middle" font-weight="bold" fill="#111" stroke="#111" stroke-width="0.154" transform="translate(166.5 686.6) scale(1 1.075)">Wavelength (nm)</text>
<text x="0" y="0" font-size="13.3" text-anchor="middle" font-weight="bold" fill="#111" stroke="#111" stroke-width="0.154" transform="translate(12.3 506.6) rotate(-90) scale(1 1.075)">Normalized PL intensity (au)</text>
<text x="0" y="0" font-size="18.5" text-anchor="start" font-weight="bold" fill="#000" stroke="#000" stroke-width="0.154" transform="translate(0.2 371.1) scale(1 1.0)">c</text>
<line x1="169.5" y1="378.2" x2="204" y2="378.2" stroke="#ff0000" stroke-width="1.0"/>
<text x="0" y="0" font-size="11.6" text-anchor="start" font-weight="normal" fill="#111" stroke="#111" stroke-width="0.22" transform="translate(209 382.2) scale(1 1.075)">2TT-<tspan font-style="italic">o</tspan>C26B</text>
<line x1="169.5" y1="397.2" x2="204" y2="397.2" stroke="#0000ff" stroke-width="1.0"/>
<text x="0" y="0" font-size="11.6" text-anchor="start" font-weight="normal" fill="#111" stroke="#111" stroke-width="0.22" transform="translate(209 401.2) scale(1 1.075)">2TT-<tspan font-style="italic">o</tspan>C610B</text>
<line x1="169.5" y1="416.2" x2="204" y2="416.2" stroke="#000" stroke-width="1.0"/>
<text x="0" y="0" font-size="11.6" text-anchor="start" font-weight="normal" fill="#111" stroke="#111" stroke-width="0.22" transform="translate(209 420.2) scale(1 1.075)">2TT-<tspan font-style="italic">o</tspan>C6B</text>
<line x1="453.6" y1="568.5" x2="603.9" y2="423.4" stroke="#ff0000" stroke-width="1.0"/>
<line x1="430.2" y1="586.6" x2="603.9" y2="451.8" stroke="#0000ff" stroke-width="1.0"/>
<line x1="448.6" y1="581.5" x2="587.3" y2="482.5" stroke="#000" stroke-width="1.0"/>
<line x1="414.7" y1="642.6" x2="667.2" y2="632.9" stroke="#2aa02a" stroke-width="1.0"/>
<rect x="450.1" y="565" width="7" height="7" fill="#ff0000"/>
<rect x="484.2" y="538.5" width="7" height="7" fill="#ff0000"/>
<rect x="509.1" y="500.5" width="7" height="7" fill="#ff0000"/>
<rect x="532.4" y="478.9" width="7" height="7" fill="#ff0000"/>
<rect x="600.4" y="419.9" width="7" height="7" fill="#ff0000"/>
<circle cx="430.2" cy="586.6" r="3.9" fill="#0000ff"/>
<circle cx="490.9" cy="537" r="3.9" fill="#0000ff"/>
<circle cx="531.2" cy="505.8" r="3.9" fill="#0000ff"/>
<circle cx="573.6" cy="472.8" r="3.9" fill="#0000ff"/>
<circle cx="603.9" cy="451.8" r="3.9" fill="#0000ff"/>
<polygon points="448.6,580.6 453,588 444.2,588" fill="#000"/>
<polygon points="482.2,551.7 486.6,559.1 477.8,559.1" fill="#000"/>
<polygon points="514.9,526.9 519.3,534.3 510.5,534.3" fill="#000"/>
<polygon points="547.6,500.6 552,508 543.2,508" fill="#000"/>
<polygon points="587.3,480.8 591.7,488.2 582.9,488.2" fill="#000"/>
<polygon points="415,647.6 419.7,640 410.3,640" fill="#008000"/>
<polygon points="461.3,645.8 466,638.2 456.6,638.2" fill="#008000"/>
<polygon points="544.1,642.7 548.8,635.1 539.4,635.1" fill="#008000"/>
<polygon points="601.6,640 606.3,632.4 596.9,632.4" fill="#008000"/>
<polygon points="667.5,637.8 672.2,630.2 662.8,630.2" fill="#008000"/>
<text x="0" y="0" font-size="13.0" text-anchor="middle" font-weight="normal" fill="#ff0000" stroke="#ff0000" stroke-width="0.22" transform="translate(560.3 435.6) scale(1 1.075)">11.5%</text>
<text x="0" y="0" font-size="13.0" text-anchor="middle" font-weight="normal" fill="#0000ff" stroke="#0000ff" stroke-width="0.22" transform="translate(610.7 470.4) scale(1 1.075)">9.1%</text>
<text x="0" y="0" font-size="13.0" text-anchor="middle" font-weight="normal" fill="#111" stroke="#111" stroke-width="0.22" transform="translate(599.9 509.8) scale(1 1.075)">8.4%</text>
<text x="0" y="0" font-size="13.0" text-anchor="middle" font-weight="normal" fill="#128c8c" stroke="#128c8c" stroke-width="0.22" transform="translate(610.7 621.6) scale(1 1.075)">0.5%</text>
<rect x="390.5" y="365.9" width="280.9" height="281.4" fill="none" stroke="#111" stroke-width="1.0"/>
<line x1="385.9" y1="647.3" x2="390.5" y2="647.3" stroke="#111" stroke-width="1.0"/>
<line x1="385.9" y1="576.95" x2="390.5" y2="576.95" stroke="#111" stroke-width="1.0"/>
<line x1="385.9" y1="506.6" x2="390.5" y2="506.6" stroke="#111" stroke-width="1.0"/>
<line x1="385.9" y1="436.25" x2="390.5" y2="436.25" stroke="#111" stroke-width="1.0"/>
<line x1="385.9" y1="365.9" x2="390.5" y2="365.9" stroke="#111" stroke-width="1.0"/>
<line x1="387.9" y1="612.12" x2="390.5" y2="612.12" stroke="#111" stroke-width="1.0"/>
<line x1="387.9" y1="541.77" x2="390.5" y2="541.77" stroke="#111" stroke-width="1.0"/>
<line x1="387.9" y1="471.42" x2="390.5" y2="471.42" stroke="#111" stroke-width="1.0"/>
<line x1="387.9" y1="401.07" x2="390.5" y2="401.07" stroke="#111" stroke-width="1.0"/>
<text x="0" y="0" font-size="13.0" text-anchor="end" font-weight="normal" fill="#111" stroke="#111" stroke-width="0.22" transform="translate(381.2 652) scale(1 1.075)">5</text>
<text x="0" y="0" font-size="13.0" text-anchor="end" font-weight="normal" fill="#111" stroke="#111" stroke-width="0.22" transform="translate(381.2 581.65) scale(1 1.075)">10</text>
<text x="0" y="0" font-size="13.0" text-anchor="end" font-weight="normal" fill="#111" stroke="#111" stroke-width="0.22" transform="translate(381.2 511.3) scale(1 1.075)">15</text>
<text x="0" y="0" font-size="13.0" text-anchor="end" font-weight="normal" fill="#111" stroke="#111" stroke-width="0.22" transform="translate(381.2 440.95) scale(1 1.075)">20</text>
<text x="0" y="0" font-size="13.0" text-anchor="end" font-weight="normal" fill="#111" stroke="#111" stroke-width="0.22" transform="translate(381.2 370.6) scale(1 1.075)">25</text>
<line x1="390.5" y1="647.3" x2="390.5" y2="651.9" stroke="#111" stroke-width="1.0"/>
<line x1="437.32" y1="647.3" x2="437.32" y2="651.9" stroke="#111" stroke-width="1.0"/>
<line x1="484.13" y1="647.3" x2="484.13" y2="651.9" stroke="#111" stroke-width="1.0"/>
<line x1="530.95" y1="647.3" x2="530.95" y2="651.9" stroke="#111" stroke-width="1.0"/>
<line x1="577.77" y1="647.3" x2="577.77" y2="651.9" stroke="#111" stroke-width="1.0"/>
<line x1="624.58" y1="647.3" x2="624.58" y2="651.9" stroke="#111" stroke-width="1.0"/>
<line x1="671.4" y1="647.3" x2="671.4" y2="651.9" stroke="#111" stroke-width="1.0"/>
<line x1="413.91" y1="647.3" x2="413.91" y2="650.1" stroke="#111" stroke-width="1.0"/>
<line x1="460.73" y1="647.3" x2="460.73" y2="650.1" stroke="#111" stroke-width="1.0"/>
<line x1="507.54" y1="647.3" x2="507.54" y2="650.1" stroke="#111" stroke-width="1.0"/>
<line x1="554.36" y1="647.3" x2="554.36" y2="650.1" stroke="#111" stroke-width="1.0"/>
<line x1="601.17" y1="647.3" x2="601.17" y2="650.1" stroke="#111" stroke-width="1.0"/>
<line x1="647.99" y1="647.3" x2="647.99" y2="650.1" stroke="#111" stroke-width="1.0"/>
<text x="0" y="0" font-size="13.0" text-anchor="middle" font-weight="normal" fill="#111" stroke="#111" stroke-width="0.22" transform="translate(390.5 667.6) scale(1 1.075)">0.00</text>
<text x="0" y="0" font-size="13.0" text-anchor="middle" font-weight="normal" fill="#111" stroke="#111" stroke-width="0.22" transform="translate(437.32 667.6) scale(1 1.075)">0.02</text>
<text x="0" y="0" font-size="13.0" text-anchor="middle" font-weight="normal" fill="#111" stroke="#111" stroke-width="0.22" transform="translate(484.13 667.6) scale(1 1.075)">0.04</text>
<text x="0" y="0" font-size="13.0" text-anchor="middle" font-weight="normal" fill="#111" stroke="#111" stroke-width="0.22" transform="translate(530.95 667.6) scale(1 1.075)">0.06</text>
<text x="0" y="0" font-size="13.0" text-anchor="middle" font-weight="normal" fill="#111" stroke="#111" stroke-width="0.22" transform="translate(577.77 667.6) scale(1 1.075)">0.08</text>
<text x="0" y="0" font-size="13.0" text-anchor="middle" font-weight="normal" fill="#111" stroke="#111" stroke-width="0.22" transform="translate(624.58 667.6) scale(1 1.075)">0.10</text>
<text x="0" y="0" font-size="13.0" text-anchor="middle" font-weight="normal" fill="#111" stroke="#111" stroke-width="0.22" transform="translate(671.4 667.6) scale(1 1.075)">0.12</text>
<text x="0" y="0" font-size="13.3" text-anchor="middle" font-weight="bold" fill="#111" stroke="#111" stroke-width="0.154" transform="translate(530.95 686.6) scale(1 1.075)">Absorbance at 808 nm (OD)</text>
<text x="0" y="0" font-size="13.3" text-anchor="middle" font-weight="bold" fill="#111" stroke="#111" stroke-width="0.154" transform="translate(352 507) rotate(-90) scale(1 1.075)">Integrated fluorescence (au)</text>
<text x="0" y="0" font-size="18.5" text-anchor="start" font-weight="bold" fill="#000" stroke="#000" stroke-width="0.154" transform="translate(340.3 370.9) scale(1 1.0)">d</text>
<rect x="414" y="382.3" width="6.8" height="6.8" fill="#ff0000"/>
<circle cx="417.4" cy="405" r="3.9" fill="#0000ff"/>
<polygon points="417.4,419.9 421.9,427.3 412.9,427.3" fill="#000"/>
<polygon points="417.4,447.7 421.9,439.9 412.9,439.9" fill="#008000"/>
<text x="0" y="0" font-size="11.6" text-anchor="start" font-weight="normal" fill="#111" stroke="#111" stroke-width="0.22" transform="translate(427.3 389.7) scale(1 1.075)">2TT-<tspan font-style="italic">o</tspan>C26B</text>
<text x="0" y="0" font-size="11.6" text-anchor="start" font-weight="normal" fill="#111" stroke="#111" stroke-width="0.22" transform="translate(427.3 409) scale(1 1.075)">2TT-<tspan font-style="italic">o</tspan>C610B</text>
<text x="0" y="0" font-size="11.6" text-anchor="start" font-weight="normal" fill="#111" stroke="#111" stroke-width="0.22" transform="translate(427.3 428.4) scale(1 1.075)">2TT-<tspan font-style="italic">o</tspan>C6B</text>
<text x="0" y="0" font-size="11.6" text-anchor="start" font-weight="normal" fill="#111" stroke="#111" stroke-width="0.22" transform="translate(427.3 447.8) scale(1 1.075)">IR26</text>
<g clip-path="url(#clipE)">
<path d="M23.6,893.83 L24.3,894.53 L25,895.24 L25.7,895.96 L26.4,896.69 L27.1,897.42 L27.8,898.15 L28.5,898.9 L29.2,899.64 L29.9,900.39 L30.6,901.13 L31.3,901.88 L32,902.62 L32.7,903.37 L33.4,904.11 L34.1,904.84 L34.8,905.57 L35.5,906.3 L36.2,907.01 L36.9,907.72 L37.6,908.42 L38.3,909.1 L39,909.78 L39.7,910.44 L40.4,911.08 L41.1,911.72 L41.8,912.33 L42.5,912.93 L43.2,913.51 L43.9,914.07 L44.6,914.61 L45.3,915.13 L46,915.62 L46.7,916.09 L47.4,916.54 L48.1,916.96 L48.8,917.35 L49.5,917.72 L50.2,918.05 L50.9,918.36 L51.6,918.63 L52.3,918.87 L53,919.08 L53.7,919.25 L54.4,919.39 L55.1,919.49 L55.8,919.56 L56.5,919.58 L57.2,919.57 L57.9,919.53 L58.6,919.44 L59.3,919.32 L60,919.16 L60.7,918.97 L61.4,918.75 L62.1,918.48 L62.8,918.19 L63.5,917.86 L64.2,917.49 L64.9,917.09 L65.6,916.66 L66.3,916.2 L67,915.7 L67.7,915.17 L68.4,914.6 L69.1,914.01 L69.8,913.38 L70.5,912.72 L71.2,912.03 L71.9,911.31 L72.6,910.56 L73.3,909.78 L74,908.97 L74.7,908.13 L75.4,907.26 L76.1,906.36 L76.8,905.43 L77.5,904.48 L78.2,903.49 L78.9,902.48 L79.6,901.44 L80.3,900.37 L81,899.28 L81.7,898.16 L82.4,897.01 L83.1,895.84 L83.8,894.65 L84.5,893.43 L85.2,892.18 L85.9,890.92 L86.6,889.63 L87.3,888.32 L88,886.98 L88.7,885.63 L89.4,884.26 L90.1,882.86 L90.8,881.45 L91.5,880.02 L92.2,878.57 L92.9,877.1 L93.6,875.61 L94.3,874.11 L95,872.59 L95.7,871.06 L96.4,869.51 L97.1,867.94 L97.8,866.36 L98.5,864.77 L99.2,863.17 L99.9,861.55 L100.6,859.92 L101.3,858.28 L102,856.63 L102.7,854.96 L103.4,853.29 L104.1,851.61 L104.8,849.92 L105.5,848.21 L106.2,846.51 L106.9,844.79 L107.6,843.06 L108.3,841.33 L109,839.59 L109.7,837.84 L110.4,836.08 L111.1,834.32 L111.8,832.55 L112.5,830.78 L113.2,829 L113.9,827.22 L114.6,825.43 L115.3,823.64 L116,821.84 L116.7,820.04 L117.4,818.24 L118.1,816.43 L118.8,814.62 L119.5,812.81 L120.2,811 L120.9,809.2 L121.6,807.41 L122.3,805.64 L123,803.89 L123.7,802.17 L124.4,800.49 L125.1,798.85 L125.8,797.26 L126.5,795.72 L127.2,794.24 L127.9,792.81 L128.6,791.43 L129.3,790.1 L130,788.8 L130.7,787.55 L131.4,786.33 L132.1,785.14 L132.8,783.98 L133.5,782.85 L134.2,781.74 L134.9,780.65 L135.6,779.59 L136.3,778.56 L137,777.56 L137.7,776.59 L138.4,775.66 L139.1,774.75 L139.8,773.89 L140.5,773.06 L141.2,772.28 L141.9,771.54 L142.6,770.84 L143.3,770.18 L144,769.57 L144.7,769.01 L145.4,768.5 L146.1,768.05 L146.8,767.64 L147.5,767.29 L148.2,767 L148.9,766.76 L149.6,766.58 L150.3,766.45 L151,766.38 L151.7,766.35 L152.4,766.38 L153.1,766.46 L153.8,766.59 L154.5,766.77 L155.2,766.99 L155.9,767.27 L156.6,767.59 L157.3,767.96 L158,768.37 L158.7,768.83 L159.4,769.34 L160.1,769.89 L160.8,770.48 L161.5,771.11 L162.2,771.79 L162.9,772.5 L163.6,773.26 L164.3,774.06 L165,774.89 L165.7,775.77 L166.4,776.69 L167.1,777.65 L167.8,778.65 L168.5,779.69 L169.2,780.77 L169.9,781.88 L170.6,783.04 L171.3,784.23 L172,785.46 L172.7,786.73 L173.4,788.04 L174.1,789.39 L174.8,790.77 L175.5,792.19 L176.2,793.65 L176.9,795.15 L177.6,796.68 L178.3,798.25 L179,799.85 L179.7,801.49 L180.4,803.17 L181.1,804.88 L181.8,806.63 L182.5,808.41 L183.2,810.22 L183.9,812.05 L184.6,813.9 L185.3,815.75 L186,817.62 L186.7,819.48 L187.4,821.34 L188.1,823.2 L188.8,825.05 L189.5,826.91 L190.2,828.79 L190.9,830.71 L191.6,832.66 L192.3,834.66 L193,836.73 L193.7,838.86 L194.4,841.06 L195.1,843.34 L195.8,845.67 L196.5,848.07 L197.2,850.51 L197.9,853.02 L198.6,855.56 L199.3,858.16 L200,860.79 L200.7,863.44 L201.4,866.09 L202.1,868.74 L202.8,871.36 L203.5,873.94 L204.2,876.47 L204.9,878.92 L205.6,881.29 L206.3,883.59 L207,885.81 L207.7,887.98 L208.4,890.1 L209.1,892.18 L209.8,894.22 L210.5,896.24 L211.2,898.23 L211.9,900.19 L212.6,902.13 L213.3,904.04 L214,905.92 L214.7,907.78 L215.4,909.61 L216.1,911.41 L216.8,913.18 L217.5,914.93 L218.2,916.64 L218.9,918.33 L219.6,919.99 L220.3,921.63 L221,923.23 L221.7,924.81 L222.4,926.36 L223.1,927.89 L223.8,929.38 L224.5,930.85 L225.2,932.3 L225.9,933.72 L226.6,935.11 L227.3,936.48 L228,937.82 L228.7,939.14 L229.4,940.43 L230.1,941.7 L230.8,942.95 L231.5,944.17 L232.2,945.37 L232.9,946.54 L233.6,947.7 L234.3,948.83 L235,949.94 L235.7,951.02 L236.4,952.09 L237.1,953.13 L237.8,954.16 L238.5,955.16 L239.2,956.14 L239.9,957.11 L240.6,958.05 L241.3,958.97 L242,959.88 L242.7,960.76 L243.4,961.63 L244.1,962.48 L244.8,963.31 L245.5,964.12 L246.2,964.92 L246.9,965.69 L247.6,966.46 L248.3,967.2 L249,967.93 L249.7,968.64 L250.4,969.34 L251.1,970.02 L251.8,970.69 L252.5,971.34 L253.2,971.98 L253.9,972.6 L254.6,973.21 L255.3,973.81 L256,974.39 L256.7,974.96 L257.4,975.52 L258.1,976.06 L258.8,976.6 L259.5,977.12 L260.2,977.62 L260.9,978.12 L261.6,978.61 L262.3,979.09 L263,979.55 L263.7,980.01 L264.4,980.45 L265.1,980.89 L265.8,981.32 L266.5,981.74 L267.2,982.15 L267.9,982.55 L268.6,982.94 L269.3,983.33 L270,983.7 L270.7,984.07 L271.4,984.43 L272.1,984.79 L272.8,985.13 L273.5,985.47 L274.2,985.8 L274.9,986.13 L275.6,986.44 L276.3,986.75 L277,987.05 L277.7,987.34 L278.4,987.63 L279.1,987.91 L279.8,988.18 L280.5,988.44 L281.2,988.7 L281.9,988.94 L282.6,989.19 L283.3,989.42 L284,989.65 L284.7,989.87 L285.4,990.08 L286.1,990.29 L286.8,990.48 L287.5,990.68 L288.2,990.86 L288.9,991.04 L289.6,991.21 L290.3,991.38 L291,991.53 L291.7,991.68 L292.4,991.83 L293.1,991.97 L293.8,992.1 L294.5,992.22 L295.2,992.34 L295.9,992.45 L296.6,992.56 L297.3,992.66 L298,992.75 L298.7,992.83 L299.4,992.91 L300.1,992.99 L300.8,993.05 L301.5,993.12 L302.2,993.17 L302.9,993.22 L303.6,993.26 L304.3,993.3 L304.8,993.32" fill="none" stroke="#ff0000" stroke-width="1.1" stroke-linejoin="round"/>
<path d="M23.6,870.41 L24.3,871.56 L25,872.71 L25.7,873.87 L26.4,875.04 L27.1,876.21 L27.8,877.38 L28.5,878.56 L29.2,879.73 L29.9,880.9 L30.6,882.07 L31.3,883.24 L32,884.4 L32.7,885.55 L33.4,886.69 L34.1,887.83 L34.8,888.95 L35.5,890.06 L36.2,891.15 L36.9,892.23 L37.6,893.3 L38.3,894.34 L39,895.36 L39.7,896.37 L40.4,897.34 L41.1,898.3 L41.8,899.23 L42.5,900.13 L43.2,901.01 L43.9,901.85 L44.6,902.66 L45.3,903.44 L46,904.19 L46.7,904.9 L47.4,905.57 L48.1,906.2 L48.8,906.8 L49.5,907.35 L50.2,907.86 L50.9,908.33 L51.6,908.76 L52.3,909.15 L53,909.51 L53.7,909.82 L54.4,910.09 L55.1,910.33 L55.8,910.54 L56.5,910.7 L57.2,910.84 L57.9,910.93 L58.6,911 L59.3,911.03 L60,911.03 L60.7,911 L61.4,910.94 L62.1,910.85 L62.8,910.73 L63.5,910.58 L64.2,910.4 L64.9,910.2 L65.6,909.97 L66.3,909.71 L67,909.43 L67.7,909.13 L68.4,908.8 L69.1,908.45 L69.8,908.07 L70.5,907.68 L71.2,907.26 L71.9,906.83 L72.6,906.37 L73.3,905.9 L74,905.41 L74.7,904.89 L75.4,904.36 L76.1,903.81 L76.8,903.23 L77.5,902.64 L78.2,902.02 L78.9,901.38 L79.6,900.72 L80.3,900.03 L81,899.32 L81.7,898.58 L82.4,897.82 L83.1,897.03 L83.8,896.22 L84.5,895.38 L85.2,894.51 L85.9,893.62 L86.6,892.69 L87.3,891.74 L88,890.76 L88.7,889.75 L89.4,888.71 L90.1,887.64 L90.8,886.53 L91.5,885.4 L92.2,884.23 L92.9,883.03 L93.6,881.8 L94.3,880.53 L95,879.23 L95.7,877.89 L96.4,876.53 L97.1,875.13 L97.8,873.7 L98.5,872.24 L99.2,870.76 L99.9,869.25 L100.6,867.72 L101.3,866.16 L102,864.58 L102.7,862.99 L103.4,861.37 L104.1,859.74 L104.8,858.1 L105.5,856.44 L106.2,854.77 L106.9,853.08 L107.6,851.39 L108.3,849.69 L109,847.98 L109.7,846.27 L110.4,844.56 L111.1,842.84 L111.8,841.12 L112.5,839.4 L113.2,837.69 L113.9,835.98 L114.6,834.27 L115.3,832.57 L116,830.87 L116.7,829.19 L117.4,827.51 L118.1,825.84 L118.8,824.18 L119.5,822.53 L120.2,820.89 L120.9,819.27 L121.6,817.65 L122.3,816.05 L123,814.46 L123.7,812.88 L124.4,811.32 L125.1,809.78 L125.8,808.25 L126.5,806.73 L127.2,805.24 L127.9,803.76 L128.6,802.3 L129.3,800.86 L130,799.44 L130.7,798.04 L131.4,796.66 L132.1,795.3 L132.8,793.96 L133.5,792.65 L134.2,791.36 L134.9,790.09 L135.6,788.85 L136.3,787.64 L137,786.45 L137.7,785.28 L138.4,784.15 L139.1,783.04 L139.8,781.96 L140.5,780.91 L141.2,779.89 L141.9,778.9 L142.6,777.94 L143.3,777.01 L144,776.12 L144.7,775.26 L145.4,774.43 L146.1,773.63 L146.8,772.87 L147.5,772.15 L148.2,771.47 L148.9,770.83 L149.6,770.24 L150.3,769.69 L151,769.2 L151.7,768.75 L152.4,768.37 L153.1,768.04 L153.8,767.77 L154.5,767.56 L155.2,767.43 L155.9,767.35 L156.6,767.35 L157.3,767.42 L158,767.55 L158.7,767.74 L159.4,767.99 L160.1,768.3 L160.8,768.67 L161.5,769.1 L162.2,769.58 L162.9,770.11 L163.6,770.69 L164.3,771.32 L165,771.99 L165.7,772.71 L166.4,773.47 L167.1,774.28 L167.8,775.13 L168.5,776.02 L169.2,776.95 L169.9,777.91 L170.6,778.92 L171.3,779.97 L172,781.05 L172.7,782.17 L173.4,783.33 L174.1,784.52 L174.8,785.74 L175.5,787 L176.2,788.29 L176.9,789.61 L177.6,790.97 L178.3,792.35 L179,793.77 L179.7,795.21 L180.4,796.68 L181.1,798.18 L181.8,799.71 L182.5,801.26 L183.2,802.84 L183.9,804.44 L184.6,806.06 L185.3,807.71 L186,809.38 L186.7,811.07 L187.4,812.78 L188.1,814.51 L188.8,816.26 L189.5,818.03 L190.2,819.82 L190.9,821.62 L191.6,823.44 L192.3,825.27 L193,827.12 L193.7,828.99 L194.4,830.88 L195.1,832.8 L195.8,834.75 L196.5,836.73 L197.2,838.75 L197.9,840.8 L198.6,842.9 L199.3,845.05 L200,847.24 L200.7,849.49 L201.4,851.79 L202.1,854.15 L202.8,856.57 L203.5,859.06 L204.2,861.61 L204.9,864.23 L205.6,866.87 L206.3,869.53 L207,872.18 L207.7,874.81 L208.4,877.38 L209.1,879.89 L209.8,882.31 L210.5,884.65 L211.2,886.92 L211.9,889.11 L212.6,891.23 L213.3,893.28 L214,895.28 L214.7,897.22 L215.4,899.1 L216.1,900.94 L216.8,902.73 L217.5,904.48 L218.2,906.2 L218.9,907.88 L219.6,909.54 L220.3,911.17 L221,912.79 L221.7,914.37 L222.4,915.94 L223.1,917.49 L223.8,919.01 L224.5,920.52 L225.2,922 L225.9,923.46 L226.6,924.9 L227.3,926.32 L228,927.72 L228.7,929.1 L229.4,930.46 L230.1,931.8 L230.8,933.12 L231.5,934.42 L232.2,935.7 L232.9,936.96 L233.6,938.2 L234.3,939.42 L235,940.62 L235.7,941.81 L236.4,942.97 L237.1,944.12 L237.8,945.25 L238.5,946.36 L239.2,947.45 L239.9,948.52 L240.6,949.58 L241.3,950.62 L242,951.64 L242.7,952.64 L243.4,953.63 L244.1,954.6 L244.8,955.55 L245.5,956.49 L246.2,957.41 L246.9,958.31 L247.6,959.2 L248.3,960.07 L249,960.92 L249.7,961.76 L250.4,962.58 L251.1,963.39 L251.8,964.18 L252.5,964.96 L253.2,965.72 L253.9,966.47 L254.6,967.2 L255.3,967.92 L256,968.62 L256.7,969.31 L257.4,969.99 L258.1,970.65 L258.8,971.29 L259.5,971.93 L260.2,972.55 L260.9,973.15 L261.6,973.74 L262.3,974.32 L263,974.89 L263.7,975.44 L264.4,975.99 L265.1,976.51 L265.8,977.03 L266.5,977.53 L267.2,978.03 L267.9,978.51 L268.6,978.97 L269.3,979.43 L270,979.88 L270.7,980.31 L271.4,980.73 L272.1,981.15 L272.8,981.55 L273.5,981.94 L274.2,982.32 L274.9,982.69 L275.6,983.05 L276.3,983.4 L277,983.73 L277.7,984.06 L278.4,984.38 L279.1,984.69 L279.8,984.99 L280.5,985.29 L281.2,985.57 L281.9,985.84 L282.6,986.11 L283.3,986.37 L284,986.61 L284.7,986.85 L285.4,987.08 L286.1,987.31 L286.8,987.52 L287.5,987.73 L288.2,987.93 L288.9,988.13 L289.6,988.31 L290.3,988.49 L291,988.66 L291.7,988.83 L292.4,988.99 L293.1,989.14 L293.8,989.29 L294.5,989.43 L295.2,989.56 L295.9,989.69 L296.6,989.81 L297.3,989.93 L298,990.04 L298.7,990.15 L299.4,990.25 L300.1,990.34 L300.8,990.43 L301.5,990.52 L302.2,990.6 L302.9,990.68 L303.6,990.75 L304.3,990.82 L304.8,990.87" fill="none" stroke="#0000ff" stroke-width="1.1" stroke-linejoin="round"/>
<path d="M23.6,894.5 L24.3,895.62 L25,896.73 L25.7,897.82 L26.4,898.89 L27.1,899.94 L27.8,900.98 L28.5,901.99 L29.2,902.98 L29.9,903.96 L30.6,904.91 L31.3,905.84 L32,906.76 L32.7,907.65 L33.4,908.52 L34.1,909.37 L34.8,910.2 L35.5,911.01 L36.2,911.79 L36.9,912.56 L37.6,913.3 L38.3,914.02 L39,914.71 L39.7,915.38 L40.4,916.03 L41.1,916.66 L41.8,917.26 L42.5,917.83 L43.2,918.39 L43.9,918.91 L44.6,919.42 L45.3,919.89 L46,920.35 L46.7,920.77 L47.4,921.17 L48.1,921.55 L48.8,921.9 L49.5,922.22 L50.2,922.52 L50.9,922.78 L51.6,923.03 L52.3,923.24 L53,923.42 L53.7,923.58 L54.4,923.71 L55.1,923.81 L55.8,923.89 L56.5,923.93 L57.2,923.94 L57.9,923.93 L58.6,923.88 L59.3,923.81 L60,923.7 L60.7,923.57 L61.4,923.4 L62.1,923.2 L62.8,922.98 L63.5,922.72 L64.2,922.43 L64.9,922.1 L65.6,921.75 L66.3,921.36 L67,920.94 L67.7,920.49 L68.4,920 L69.1,919.48 L69.8,918.93 L70.5,918.35 L71.2,917.73 L71.9,917.08 L72.6,916.41 L73.3,915.7 L74,914.96 L74.7,914.2 L75.4,913.4 L76.1,912.58 L76.8,911.72 L77.5,910.84 L78.2,909.94 L78.9,909.01 L79.6,908.05 L80.3,907.06 L81,906.06 L81.7,905.02 L82.4,903.96 L83.1,902.88 L83.8,901.78 L84.5,900.65 L85.2,899.5 L85.9,898.33 L86.6,897.14 L87.3,895.93 L88,894.7 L88.7,893.45 L89.4,892.18 L90.1,890.89 L90.8,889.58 L91.5,888.25 L92.2,886.91 L92.9,885.55 L93.6,884.17 L94.3,882.78 L95,881.37 L95.7,879.95 L96.4,878.51 L97.1,877.06 L97.8,875.59 L98.5,874.12 L99.2,872.63 L99.9,871.12 L100.6,869.61 L101.3,868.08 L102,866.55 L102.7,865 L103.4,863.45 L104.1,861.88 L104.8,860.31 L105.5,858.73 L106.2,857.14 L106.9,855.54 L107.6,853.94 L108.3,852.33 L109,850.71 L109.7,849.09 L110.4,847.46 L111.1,845.83 L111.8,844.2 L112.5,842.56 L113.2,840.92 L113.9,839.28 L114.6,837.63 L115.3,835.98 L116,834.34 L116.7,832.69 L117.4,831.04 L118.1,829.39 L118.8,827.75 L119.5,826.11 L120.2,824.47 L120.9,822.84 L121.6,821.22 L122.3,819.6 L123,817.99 L123.7,816.38 L124.4,814.79 L125.1,813.21 L125.8,811.64 L126.5,810.08 L127.2,808.53 L127.9,807 L128.6,805.48 L129.3,803.98 L130,802.5 L130.7,801.03 L131.4,799.58 L132.1,798.15 L132.8,796.74 L133.5,795.35 L134.2,793.98 L134.9,792.64 L135.6,791.32 L136.3,790.02 L137,788.75 L137.7,787.51 L138.4,786.29 L139.1,785.1 L139.8,783.94 L140.5,782.81 L141.2,781.71 L141.9,780.65 L142.6,779.61 L143.3,778.61 L144,777.64 L144.7,776.71 L145.4,775.81 L146.1,774.96 L146.8,774.13 L147.5,773.35 L148.2,772.61 L148.9,771.91 L149.6,771.26 L150.3,770.65 L151,770.09 L151.7,769.58 L152.4,769.13 L153.1,768.73 L153.8,768.39 L154.5,768.1 L155.2,767.88 L155.9,767.72 L156.6,767.63 L157.3,767.6 L158,767.64 L158.7,767.73 L159.4,767.89 L160.1,768.1 L160.8,768.37 L161.5,768.69 L162.2,769.06 L162.9,769.49 L163.6,769.96 L164.3,770.48 L165,771.05 L165.7,771.66 L166.4,772.31 L167.1,773 L167.8,773.73 L168.5,774.51 L169.2,775.31 L169.9,776.16 L170.6,777.05 L171.3,777.97 L172,778.92 L172.7,779.92 L173.4,780.94 L174.1,782 L174.8,783.1 L175.5,784.22 L176.2,785.38 L176.9,786.57 L177.6,787.79 L178.3,789.04 L179,790.32 L179.7,791.62 L180.4,792.96 L181.1,794.32 L181.8,795.71 L182.5,797.13 L183.2,798.57 L183.9,800.04 L184.6,801.53 L185.3,803.04 L186,804.58 L186.7,806.14 L187.4,807.72 L188.1,809.32 L188.8,810.94 L189.5,812.58 L190.2,814.24 L190.9,815.92 L191.6,817.62 L192.3,819.33 L193,821.06 L193.7,822.81 L194.4,824.57 L195.1,826.35 L195.8,828.14 L196.5,829.94 L197.2,831.75 L197.9,833.59 L198.6,835.43 L199.3,837.29 L200,839.17 L200.7,841.06 L201.4,842.96 L202.1,844.89 L202.8,846.82 L203.5,848.78 L204.2,850.76 L204.9,852.77 L205.6,854.82 L206.3,856.92 L207,859.06 L207.7,861.26 L208.4,863.52 L209.1,865.85 L209.8,868.23 L210.5,870.63 L211.2,873.04 L211.9,875.44 L212.6,877.81 L213.3,880.12 L214,882.37 L214.7,884.55 L215.4,886.67 L216.1,888.74 L216.8,890.75 L217.5,892.71 L218.2,894.63 L218.9,896.5 L219.6,898.33 L220.3,900.13 L221,901.89 L221.7,903.62 L222.4,905.33 L223.1,907.01 L223.8,908.67 L224.5,910.29 L225.2,911.9 L225.9,913.48 L226.6,915.03 L227.3,916.57 L228,918.07 L228.7,919.56 L229.4,921.03 L230.1,922.47 L230.8,923.89 L231.5,925.29 L232.2,926.67 L232.9,928.03 L233.6,929.37 L234.3,930.69 L235,932 L235.7,933.28 L236.4,934.55 L237.1,935.8 L237.8,937.04 L238.5,938.26 L239.2,939.46 L239.9,940.65 L240.6,941.82 L241.3,942.98 L242,944.13 L242.7,945.26 L243.4,946.38 L244.1,947.48 L244.8,948.58 L245.5,949.66 L246.2,950.73 L246.9,951.8 L247.6,952.85 L248.3,953.89 L249,954.93 L249.7,955.95 L250.4,956.97 L251.1,957.97 L251.8,958.97 L252.5,959.96 L253.2,960.94 L253.9,961.91 L254.6,962.87 L255.3,963.82 L256,964.75 L256.7,965.68 L257.4,966.59 L258.1,967.49 L258.8,968.38 L259.5,969.25 L260.2,970.11 L260.9,970.96 L261.6,971.79 L262.3,972.61 L263,973.41 L263.7,974.2 L264.4,974.97 L265.1,975.72 L265.8,976.46 L266.5,977.18 L267.2,977.88 L267.9,978.57 L268.6,979.23 L269.3,979.88 L270,980.51 L270.7,981.12 L271.4,981.71 L272.1,982.28 L272.8,982.83 L273.5,983.36 L274.2,983.87 L274.9,984.36 L275.6,984.82 L276.3,985.26 L277,985.68 L277.7,986.09 L278.4,986.47 L279.1,986.83 L279.8,987.18 L280.5,987.51 L281.2,987.82 L281.9,988.12 L282.6,988.4 L283.3,988.67 L284,988.92 L284.7,989.16 L285.4,989.39 L286.1,989.61 L286.8,989.82 L287.5,990.02 L288.2,990.21 L288.9,990.39 L289.6,990.56 L290.3,990.73 L291,990.89 L291.7,991.04 L292.4,991.19 L293.1,991.34 L293.8,991.48 L294.5,991.62 L295.2,991.76 L295.9,991.9 L296.6,992.04 L297.3,992.17 L298,992.31 L298.7,992.45 L299.4,992.6 L300.1,992.74 L300.8,992.89 L301.5,993.05 L302.2,993.21 L302.9,993.37 L303.6,993.55 L304.3,993.73 L304.8,993.86" fill="none" stroke="#000" stroke-width="1.1" stroke-linejoin="round"/>
</g>
<rect x="23.5" y="720.3" width="281.3" height="281.2" fill="none" stroke="#111" stroke-width="1.0"/>
<line x1="23.5" y1="1001.5" x2="23.5" y2="1005.9" stroke="#111" stroke-width="1.0"/>
<line x1="79.76" y1="1001.5" x2="79.76" y2="1005.9" stroke="#111" stroke-width="1.0"/>
<line x1="136.02" y1="1001.5" x2="136.02" y2="1005.9" stroke="#111" stroke-width="1.0"/>
<line x1="192.28" y1="1001.5" x2="192.28" y2="1005.9" stroke="#111" stroke-width="1.0"/>
<line x1="248.54" y1="1001.5" x2="248.54" y2="1005.9" stroke="#111" stroke-width="1.0"/>
<line x1="304.8" y1="1001.5" x2="304.8" y2="1005.9" stroke="#111" stroke-width="1.0"/>
<line x1="51.63" y1="1001.5" x2="51.63" y2="1004.1" stroke="#111" stroke-width="1.0"/>
<line x1="107.89" y1="1001.5" x2="107.89" y2="1004.1" stroke="#111" stroke-width="1.0"/>
<line x1="164.15" y1="1001.5" x2="164.15" y2="1004.1" stroke="#111" stroke-width="1.0"/>
<line x1="220.41" y1="1001.5" x2="220.41" y2="1004.1" stroke="#111" stroke-width="1.0"/>
<line x1="276.67" y1="1001.5" x2="276.67" y2="1004.1" stroke="#111" stroke-width="1.0"/>
<text x="0" y="0" font-size="13.0" text-anchor="middle" font-weight="normal" fill="#111" stroke="#111" stroke-width="0.22" transform="translate(23.5 1021.8) scale(1 1.075)">500</text>
<text x="0" y="0" font-size="13.0" text-anchor="middle" font-weight="normal" fill="#111" stroke="#111" stroke-width="0.22" transform="translate(79.76 1021.8) scale(1 1.075)">600</text>
<text x="0" y="0" font-size="13.0" text-anchor="middle" font-weight="normal" fill="#111" stroke="#111" stroke-width="0.22" transform="translate(136.02 1021.8) scale(1 1.075)">700</text>
<text x="0" y="0" font-size="13.0" text-anchor="middle" font-weight="normal" fill="#111" stroke="#111" stroke-width="0.22" transform="translate(192.28 1021.8) scale(1 1.075)">800</text>
<text x="0" y="0" font-size="13.0" text-anchor="middle" font-weight="normal" fill="#111" stroke="#111" stroke-width="0.22" transform="translate(248.54 1021.8) scale(1 1.075)">900</text>
<text x="0" y="0" font-size="13.0" text-anchor="middle" font-weight="normal" fill="#111" stroke="#111" stroke-width="0.22" transform="translate(304.8 1021.8) scale(1 1.075)">1000</text>
<text x="0" y="0" font-size="13.3" text-anchor="middle" font-weight="bold" fill="#111" stroke="#111" stroke-width="0.154" transform="translate(164.15 1042.3) scale(1 1.075)">Wavelength (nm)</text>
<text x="0" y="0" font-size="13.3" text-anchor="middle" font-weight="bold" fill="#111" stroke="#111" stroke-width="0.154" transform="translate(11.6 861) rotate(-90) scale(1 1.075)">Normalized absorbance</text>
<text x="0" y="0" font-size="18.5" text-anchor="start" font-weight="bold" fill="#000" stroke="#000" stroke-width="0.154" transform="translate(-0.3 725.7) scale(1 1.0)">e</text>
<line x1="174.1" y1="734.2" x2="208.3" y2="734.2" stroke="#ff0000" stroke-width="1.0"/>
<text x="0" y="0" font-size="11.6" text-anchor="start" font-weight="normal" fill="#111" stroke="#111" stroke-width="0.22" transform="translate(213.2 738.2) scale(1 1.075)">2TT-<tspan font-style="italic">o</tspan>C26B</text>
<line x1="174.1" y1="753.2" x2="208.3" y2="753.2" stroke="#0000ff" stroke-width="1.0"/>
<text x="0" y="0" font-size="11.6" text-anchor="start" font-weight="normal" fill="#111" stroke="#111" stroke-width="0.22" transform="translate(213.2 757.2) scale(1 1.075)">2TT-<tspan font-style="italic">o</tspan>C610B</text>
<line x1="174.1" y1="772.2" x2="208.3" y2="772.2" stroke="#000" stroke-width="1.0"/>
<text x="0" y="0" font-size="11.6" text-anchor="start" font-weight="normal" fill="#111" stroke="#111" stroke-width="0.22" transform="translate(213.2 776.2) scale(1 1.075)">2TT-<tspan font-style="italic">o</tspan>C6B</text>
<polyline points="399.9,745.4 435.1,745.6 470.3,746 505.5,746.6 540.7,747.1 575.9,748 663.9,749" fill="none" stroke="#ff0000" stroke-width="1.0" stroke-linejoin="round"/>
<polyline points="399.9,745.4 435.1,745.6 470.3,746 505.5,746.6 540.7,747.1 575.9,748 663.9,749" fill="none" stroke="#0000ff" stroke-width="1.0" stroke-linejoin="round"/>
<polyline points="399.9,745.4 435.1,745.6 470.3,746 505.5,746.6 540.7,747.1 575.9,748 663.9,749" fill="none" stroke="#000" stroke-width="1.0" stroke-linejoin="round"/>
<rect x="396.6" y="742.7" width="6.6" height="6.6" fill="#ff0000"/>
<circle cx="399.9" cy="745.7" r="3.7" fill="#0000ff"/>
<polygon points="400.1,740.5 404.6,748.3 395.6,748.3" fill="#000"/>
<rect x="431.8" y="742.9" width="6.6" height="6.6" fill="#ff0000"/>
<circle cx="435.1" cy="745.9" r="3.7" fill="#0000ff"/>
<polygon points="435.3,740.7 439.8,748.5 430.8,748.5" fill="#000"/>
<rect x="467" y="743.3" width="6.6" height="6.6" fill="#ff0000"/>
<circle cx="470.3" cy="746.3" r="3.7" fill="#0000ff"/>
<polygon points="470.5,741.1 475,748.9 466,748.9" fill="#000"/>
<rect x="502.2" y="743.9" width="6.6" height="6.6" fill="#ff0000"/>
<circle cx="505.5" cy="746.9" r="3.7" fill="#0000ff"/>
<polygon points="505.7,741.7 510.2,749.5 501.2,749.5" fill="#000"/>
<rect x="537.4" y="744.4" width="6.6" height="6.6" fill="#ff0000"/>
<circle cx="540.7" cy="747.4" r="3.7" fill="#0000ff"/>
<polygon points="540.9,742.2 545.4,750 536.4,750" fill="#000"/>
<rect x="572.6" y="745.3" width="6.6" height="6.6" fill="#ff0000"/>
<circle cx="575.9" cy="748.3" r="3.7" fill="#0000ff"/>
<polygon points="576.1,743.1 580.6,750.9 571.6,750.9" fill="#000"/>
<rect x="660.6" y="746.3" width="6.6" height="6.6" fill="#ff0000"/>
<circle cx="663.9" cy="749.3" r="3.7" fill="#0000ff"/>
<polygon points="664.1,744.1 668.6,751.9 659.6,751.9" fill="#000"/>
<rect x="391" y="720.2" width="281.8" height="281.1" fill="none" stroke="#111" stroke-width="1.0"/>
<line x1="386.4" y1="1001.3" x2="391" y2="1001.3" stroke="#111" stroke-width="1.0"/>
<line x1="386.4" y1="950.12" x2="391" y2="950.12" stroke="#111" stroke-width="1.0"/>
<line x1="386.4" y1="898.94" x2="391" y2="898.94" stroke="#111" stroke-width="1.0"/>
<line x1="386.4" y1="847.76" x2="391" y2="847.76" stroke="#111" stroke-width="1.0"/>
<line x1="386.4" y1="796.58" x2="391" y2="796.58" stroke="#111" stroke-width="1.0"/>
<line x1="386.4" y1="745.4" x2="391" y2="745.4" stroke="#111" stroke-width="1.0"/>
<line x1="388.4" y1="975.71" x2="391" y2="975.71" stroke="#111" stroke-width="1.0"/>
<line x1="388.4" y1="924.53" x2="391" y2="924.53" stroke="#111" stroke-width="1.0"/>
<line x1="388.4" y1="873.35" x2="391" y2="873.35" stroke="#111" stroke-width="1.0"/>
<line x1="388.4" y1="822.17" x2="391" y2="822.17" stroke="#111" stroke-width="1.0"/>
<line x1="388.4" y1="770.99" x2="391" y2="770.99" stroke="#111" stroke-width="1.0"/>
<text x="0" y="0" font-size="13.0" text-anchor="end" font-weight="normal" fill="#111" stroke="#111" stroke-width="0.22" transform="translate(381.2 1007) scale(1 1.075)">0.0</text>
<text x="0" y="0" font-size="13.0" text-anchor="end" font-weight="normal" fill="#111" stroke="#111" stroke-width="0.22" transform="translate(381.2 955.82) scale(1 1.075)">0.2</text>
<text x="0" y="0" font-size="13.0" text-anchor="end" font-weight="normal" fill="#111" stroke="#111" stroke-width="0.22" transform="translate(381.2 904.64) scale(1 1.075)">0.4</text>
<text x="0" y="0" font-size="13.0" text-anchor="end" font-weight="normal" fill="#111" stroke="#111" stroke-width="0.22" transform="translate(381.2 853.46) scale(1 1.075)">0.6</text>
<text x="0" y="0" font-size="13.0" text-anchor="end" font-weight="normal" fill="#111" stroke="#111" stroke-width="0.22" transform="translate(381.2 802.28) scale(1 1.075)">0.8</text>
<text x="0" y="0" font-size="13.0" text-anchor="end" font-weight="normal" fill="#111" stroke="#111" stroke-width="0.22" transform="translate(381.2 751.1) scale(1 1.075)">1.0</text>
<line x1="399.9" y1="1001.3" x2="399.9" y2="1005.9" stroke="#111" stroke-width="1.0"/>
<line x1="452.7" y1="1001.3" x2="452.7" y2="1005.9" stroke="#111" stroke-width="1.0"/>
<line x1="505.5" y1="1001.3" x2="505.5" y2="1005.9" stroke="#111" stroke-width="1.0"/>
<line x1="558.3" y1="1001.3" x2="558.3" y2="1005.9" stroke="#111" stroke-width="1.0"/>
<line x1="611.1" y1="1001.3" x2="611.1" y2="1005.9" stroke="#111" stroke-width="1.0"/>
<line x1="663.9" y1="1001.3" x2="663.9" y2="1005.9" stroke="#111" stroke-width="1.0"/>
<line x1="417.5" y1="1001.3" x2="417.5" y2="1003.9" stroke="#111" stroke-width="1.0"/>
<line x1="435.1" y1="1001.3" x2="435.1" y2="1003.9" stroke="#111" stroke-width="1.0"/>
<line x1="470.3" y1="1001.3" x2="470.3" y2="1003.9" stroke="#111" stroke-width="1.0"/>
<line x1="487.9" y1="1001.3" x2="487.9" y2="1003.9" stroke="#111" stroke-width="1.0"/>
<line x1="523.1" y1="1001.3" x2="523.1" y2="1003.9" stroke="#111" stroke-width="1.0"/>
<line x1="540.7" y1="1001.3" x2="540.7" y2="1003.9" stroke="#111" stroke-width="1.0"/>
<line x1="575.9" y1="1001.3" x2="575.9" y2="1003.9" stroke="#111" stroke-width="1.0"/>
<line x1="593.5" y1="1001.3" x2="593.5" y2="1003.9" stroke="#111" stroke-width="1.0"/>
<line x1="628.7" y1="1001.3" x2="628.7" y2="1003.9" stroke="#111" stroke-width="1.0"/>
<line x1="646.3" y1="1001.3" x2="646.3" y2="1003.9" stroke="#111" stroke-width="1.0"/>
<text x="0" y="0" font-size="13.0" text-anchor="middle" font-weight="normal" fill="#111" stroke="#111" stroke-width="0.22" transform="translate(399.9 1021.8) scale(1 1.075)">0</text>
<text x="0" y="0" font-size="13.0" text-anchor="middle" font-weight="normal" fill="#111" stroke="#111" stroke-width="0.22" transform="translate(452.7 1021.8) scale(1 1.075)">3</text>
<text x="0" y="0" font-size="13.0" text-anchor="middle" font-weight="normal" fill="#111" stroke="#111" stroke-width="0.22" transform="translate(505.5 1021.8) scale(1 1.075)">6</text>
<text x="0" y="0" font-size="13.0" text-anchor="middle" font-weight="normal" fill="#111" stroke="#111" stroke-width="0.22" transform="translate(558.3 1021.8) scale(1 1.075)">9</text>
<text x="0" y="0" font-size="13.0" text-anchor="middle" font-weight="normal" fill="#111" stroke="#111" stroke-width="0.22" transform="translate(611.1 1021.8) scale(1 1.075)">12</text>
<text x="0" y="0" font-size="13.0" text-anchor="middle" font-weight="normal" fill="#111" stroke="#111" stroke-width="0.22" transform="translate(663.9 1021.8) scale(1 1.075)">15</text>
<text x="0" y="0" font-size="13.3" text-anchor="middle" font-weight="bold" fill="#111" stroke="#111" stroke-width="0.154" transform="translate(531.4 1042.4) scale(1 1.075)">Irradiation time (min)</text>
<text x="0" y="0" font-size="13.3" text-anchor="start" font-weight="bold" fill="#111" stroke="#111" stroke-width="0.154" transform="translate(351.9 868.6) rotate(-90) scale(1 1.075)">I/I<tspan font-size="9" dy="3">0</tspan></text>
<text x="0" y="0" font-size="18.5" text-anchor="start" font-weight="bold" fill="#000" stroke="#000" stroke-width="0.154" transform="translate(340.6 725.3) scale(1 1.0)">f</text>
<line x1="532" y1="782.8" x2="566.5" y2="782.8" stroke="#ff7f7f" stroke-width="1.4"/>
<rect x="546.1" y="779.4" width="6.8" height="6.8" fill="#ff0000"/>
<text x="0" y="0" font-size="11.6" text-anchor="start" font-weight="normal" fill="#111" stroke="#111" stroke-width="0.22" transform="translate(572.2 786.8) scale(1 1.075)">2TT-<tspan font-style="italic">o</tspan>C26B</text>
<line x1="532" y1="801.8" x2="566.5" y2="801.8" stroke="#7f7fff" stroke-width="1.4"/>
<circle cx="549.5" cy="801.8" r="3.8" fill="#0000ff"/>
<text x="0" y="0" font-size="11.6" text-anchor="start" font-weight="normal" fill="#111" stroke="#111" stroke-width="0.22" transform="translate(572.2 805.8) scale(1 1.075)">2TT-<tspan font-style="italic">o</tspan>C610B</text>
<line x1="532" y1="820.8" x2="566.5" y2="820.8" stroke="#7f7f7f" stroke-width="1.4"/>
<polygon points="549.5,816.9 553.9,824.1 545.1,824.1" fill="#000"/>
<text x="0" y="0" font-size="11.6" text-anchor="start" font-weight="normal" fill="#111" stroke="#111" stroke-width="0.22" transform="translate(572.2 824.8) scale(1 1.075)">2TT-<tspan font-style="italic">o</tspan>C6B</text>
</g>
</svg></body></html>
